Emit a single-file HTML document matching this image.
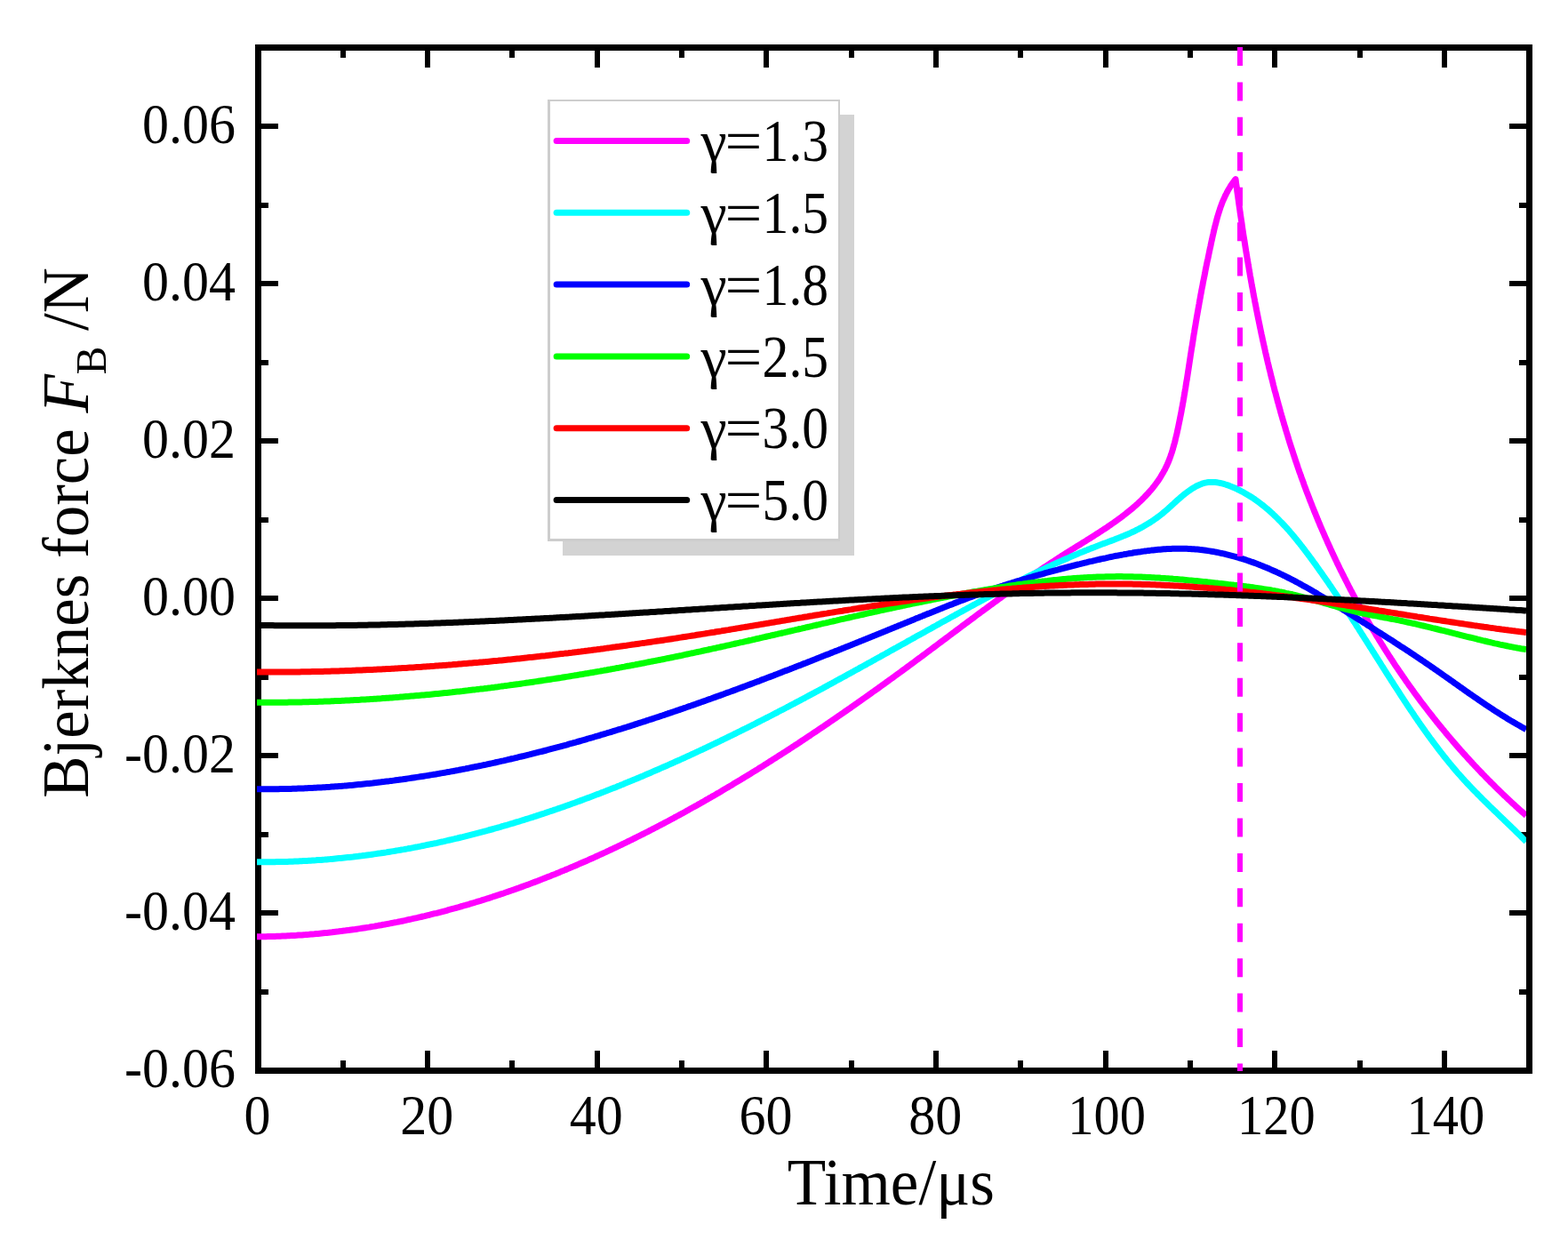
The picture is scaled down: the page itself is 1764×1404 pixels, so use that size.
<!DOCTYPE html>
<html><head><meta charset="utf-8"><title>Bjerknes force vs time</title>
<style>html,body{margin:0;padding:0;background:#fff;width:1764px;height:1404px;overflow:hidden}</style>
</head><body>
<svg width="1764" height="1404" viewBox="0 0 1764 1404" style="display:block">
<rect x="0" y="0" width="1764" height="1404" fill="#fff"/>
<g fill="#000">
<path fill-rule="evenodd" d="M287 50H1724V1208H287Z M294 57V1201H1717V57Z"/>
<rect x="288" y="1182" width="6" height="19"/>
<rect x="288" y="57" width="6" height="19"/>
<rect x="383" y="1193" width="6" height="8"/>
<rect x="383" y="57" width="6" height="8"/>
<rect x="478" y="1182" width="6" height="19"/>
<rect x="478" y="57" width="6" height="19"/>
<rect x="573" y="1193" width="6" height="8"/>
<rect x="573" y="57" width="6" height="8"/>
<rect x="669" y="1182" width="6" height="19"/>
<rect x="669" y="57" width="6" height="19"/>
<rect x="764" y="1193" width="6" height="8"/>
<rect x="764" y="57" width="6" height="8"/>
<rect x="859" y="1182" width="6" height="19"/>
<rect x="859" y="57" width="6" height="19"/>
<rect x="955" y="1193" width="6" height="8"/>
<rect x="955" y="57" width="6" height="8"/>
<rect x="1050" y="1182" width="6" height="19"/>
<rect x="1050" y="57" width="6" height="19"/>
<rect x="1145" y="1193" width="6" height="8"/>
<rect x="1145" y="57" width="6" height="8"/>
<rect x="1241" y="1182" width="6" height="19"/>
<rect x="1241" y="57" width="6" height="19"/>
<rect x="1336" y="1193" width="6" height="8"/>
<rect x="1336" y="57" width="6" height="8"/>
<rect x="1431" y="1182" width="6" height="19"/>
<rect x="1431" y="57" width="6" height="19"/>
<rect x="1527" y="1193" width="6" height="8"/>
<rect x="1527" y="57" width="6" height="8"/>
<rect x="1622" y="1182" width="6" height="19"/>
<rect x="1622" y="57" width="6" height="19"/>
<rect x="294" y="1113" width="8" height="6"/>
<rect x="1709" y="1113" width="8" height="6"/>
<rect x="294" y="1024" width="19" height="6"/>
<rect x="1698" y="1024" width="19" height="6"/>
<rect x="294" y="936" width="8" height="6"/>
<rect x="1709" y="936" width="8" height="6"/>
<rect x="294" y="847" width="19" height="6"/>
<rect x="1698" y="847" width="19" height="6"/>
<rect x="294" y="759" width="8" height="6"/>
<rect x="1709" y="759" width="8" height="6"/>
<rect x="294" y="670" width="19" height="6"/>
<rect x="1698" y="670" width="19" height="6"/>
<rect x="294" y="582" width="8" height="6"/>
<rect x="1709" y="582" width="8" height="6"/>
<rect x="294" y="493" width="19" height="6"/>
<rect x="1698" y="493" width="19" height="6"/>
<rect x="294" y="405" width="8" height="6"/>
<rect x="1709" y="405" width="8" height="6"/>
<rect x="294" y="316" width="19" height="6"/>
<rect x="1698" y="316" width="19" height="6"/>
<rect x="294" y="228" width="8" height="6"/>
<rect x="1709" y="228" width="8" height="6"/>
<rect x="294" y="139" width="19" height="6"/>
<rect x="1698" y="139" width="19" height="6"/>
</g>
<defs><clipPath id="pc"><rect x="289" y="50" width="1428" height="1158"/></clipPath></defs>
<g clip-path="url(#pc)" fill="none" stroke-width="7" stroke-linejoin="round" stroke-linecap="butt">
<path d="M289.0 1053.8L291.0 1053.8L293.1 1053.8L295.1 1053.7L297.1 1053.7L299.2 1053.7L301.2 1053.6L303.2 1053.6L305.3 1053.5L307.3 1053.5L309.3 1053.4L311.4 1053.3L313.4 1053.3L315.4 1053.2L317.4 1053.1L319.5 1053.0L321.5 1052.9L323.5 1052.8L325.5 1052.7L327.5 1052.6L329.6 1052.5L331.6 1052.4L333.6 1052.3L335.6 1052.1L337.6 1052.0L339.6 1051.9L341.6 1051.7L343.6 1051.6L345.6 1051.4L347.6 1051.3L349.7 1051.1L351.7 1050.9L353.7 1050.8L355.7 1050.6L357.7 1050.4L359.7 1050.2L361.7 1050.0L363.7 1049.8L365.7 1049.6L367.7 1049.4L369.6 1049.2L371.6 1049.0L373.6 1048.8L375.6 1048.5L377.6 1048.3L379.6 1048.1L381.6 1047.8L383.6 1047.6L385.6 1047.3L387.5 1047.1L389.5 1046.8L391.5 1046.6L393.5 1046.3L395.5 1046.0L397.4 1045.7L399.4 1045.5L401.4 1045.2L403.4 1044.9L405.3 1044.6L407.3 1044.3L409.3 1044.0L411.3 1043.7L413.2 1043.4L415.2 1043.1L417.2 1042.7L419.1 1042.4L421.1 1042.1L423.1 1041.7L425.0 1041.4L427.0 1041.0L428.9 1040.7L430.9 1040.3L432.9 1040.0L434.8 1039.6L436.8 1039.3L438.7 1038.9L440.7 1038.5L442.6 1038.1L444.6 1037.7L446.5 1037.4L448.5 1037.0L450.4 1036.6L452.4 1036.2L454.3 1035.8L456.3 1035.4L458.2 1034.9L460.2 1034.5L462.1 1034.1L464.0 1033.7L466.0 1033.2L467.9 1032.8L469.8 1032.4L471.8 1031.9L473.7 1031.5L475.6 1031.0L477.6 1030.6L479.5 1030.1L481.4 1029.6L483.4 1029.2L485.3 1028.7L487.2 1028.2L489.2 1027.7L491.1 1027.3L493.0 1026.8L494.9 1026.3L496.8 1025.8L498.8 1025.3L500.7 1024.8L502.6 1024.3L504.5 1023.7L506.4 1023.2L508.3 1022.7L510.3 1022.2L512.2 1021.7L514.1 1021.1L516.0 1020.6L517.9 1020.0L519.8 1019.5L521.7 1018.9L523.6 1018.4L525.5 1017.8L527.4 1017.3L529.3 1016.7L531.2 1016.1L533.1 1015.6L535.0 1015.0L536.9 1014.4L538.8 1013.8L540.7 1013.3L542.6 1012.7L544.5 1012.1L546.4 1011.5L548.3 1010.9L550.2 1010.3L552.1 1009.7L554.0 1009.0L555.8 1008.4L557.7 1007.8L559.6 1007.2L561.5 1006.6L563.4 1005.9L565.3 1005.3L567.1 1004.7L569.0 1004.0L570.9 1003.4L572.8 1002.7L574.7 1002.1L576.5 1001.4L578.4 1000.8L580.3 1000.1L582.1 999.4L584.0 998.8L585.9 998.1L587.8 997.4L589.6 996.7L591.5 996.0L593.4 995.4L595.2 994.7L597.1 994.0L598.9 993.3L600.8 992.6L602.7 991.9L604.5 991.2L606.4 990.4L608.2 989.7L610.1 989.0L611.9 988.3L613.8 987.6L615.6 986.8L617.5 986.1L619.3 985.4L621.2 984.6L623.0 983.9L624.9 983.2L626.7 982.4L628.6 981.7L630.4 980.9L632.3 980.1L634.1 979.4L635.9 978.6L637.8 977.9L639.6 977.1L641.5 976.3L643.3 975.5L645.1 974.8L647.0 974.0L648.8 973.2L650.6 972.4L652.5 971.6L654.3 970.8L656.1 970.0L657.9 969.2L659.8 968.4L661.6 967.6L663.4 966.8L665.2 966.0L667.1 965.2L668.9 964.4L670.7 963.5L672.5 962.7L674.3 961.9L676.2 961.1L678.0 960.2L679.8 959.4L681.6 958.6L683.4 957.7L685.2 956.9L687.0 956.0L688.8 955.2L690.6 954.3L692.4 953.5L694.3 952.6L696.1 951.7L697.9 950.9L699.7 950.0L701.5 949.1L703.3 948.3L705.1 947.4L706.9 946.5L708.7 945.6L710.5 944.8L712.2 943.9L714.0 943.0L715.8 942.1L717.6 941.2L719.4 940.3L721.2 939.4L723.0 938.5L724.8 937.6L726.6 936.7L728.4 935.8L730.1 934.9L731.9 934.0L733.7 933.0L735.5 932.1L737.3 931.2L739.0 930.3L740.8 929.3L742.6 928.4L744.4 927.5L746.1 926.6L747.9 925.6L749.7 924.7L751.5 923.7L753.2 922.8L755.0 921.8L756.8 920.9L758.5 919.9L760.3 919.0L762.1 918.0L763.8 917.1L765.6 916.1L767.4 915.2L769.1 914.2L770.9 913.2L772.6 912.2L774.4 911.3L776.1 910.3L777.9 909.3L779.7 908.3L781.4 907.4L783.2 906.4L784.9 905.4L786.7 904.4L788.4 903.4L790.2 902.4L791.9 901.4L793.6 900.4L795.4 899.4L797.1 898.4L798.9 897.4L800.6 896.4L802.4 895.4L804.1 894.4L805.8 893.4L807.6 892.4L809.3 891.4L811.0 890.4L812.8 889.3L814.5 888.3L816.2 887.3L818.0 886.3L819.7 885.2L821.4 884.2L823.2 883.2L824.9 882.1L826.6 881.1L828.3 880.1L830.1 879.0L831.8 878.0L833.5 877.0L835.2 875.9L837.0 874.9L838.7 873.8L840.4 872.8L842.1 871.7L843.8 870.7L845.5 869.6L847.2 868.5L849.0 867.5L850.7 866.4L852.4 865.4L854.1 864.3L855.8 863.2L857.5 862.2L859.2 861.1L860.9 860.0L862.6 859.0L864.3 857.9L866.0 856.8L867.7 855.7L869.4 854.6L871.1 853.6L872.8 852.5L874.5 851.4L876.2 850.3L877.9 849.2L879.6 848.1L881.3 847.0L883.0 846.0L884.7 844.9L886.4 843.8L888.1 842.7L889.7 841.6L891.4 840.5L893.1 839.4L894.8 838.3L896.5 837.2L898.2 836.1L899.8 835.0L901.5 833.8L903.2 832.7L904.9 831.6L906.6 830.5L908.2 829.4L909.9 828.3L911.6 827.2L913.3 826.0L914.9 824.9L916.6 823.8L918.3 822.7L919.9 821.6L921.6 820.4L923.3 819.3L924.9 818.2L926.6 817.1L928.3 815.9L929.9 814.8L931.6 813.7L933.2 812.5L934.9 811.4L936.6 810.3L938.2 809.1L939.9 808.0L941.5 806.9L943.2 805.7L944.8 804.6L946.5 803.4L948.1 802.3L949.8 801.1L951.4 800.0L953.1 798.8L954.7 797.7L956.4 796.6L958.0 795.4L959.7 794.3L961.3 793.1L963.0 791.9L964.6 790.8L966.2 789.6L967.9 788.5L969.5 787.3L971.1 786.2L972.8 785.0L974.4 783.9L976.1 782.7L977.7 781.5L979.3 780.4L980.9 779.2L982.6 778.0L984.2 776.9L985.8 775.7L987.5 774.6L989.1 773.4L990.7 772.2L992.3 771.0L994.0 769.9L995.6 768.7L997.2 767.5L998.8 766.4L1000.4 765.2L1002.1 764.0L1003.7 762.9L1005.3 761.7L1006.9 760.5L1008.5 759.3L1010.1 758.2L1011.7 757.0L1013.4 755.8L1015.0 754.6L1016.6 753.4L1018.2 752.3L1019.8 751.1L1021.4 749.9L1023.0 748.7L1024.6 747.5L1026.2 746.4L1027.8 745.2L1029.4 744.0L1031.0 742.8L1032.6 741.6L1034.2 740.4L1035.8 739.3L1037.4 738.1L1039.0 736.9L1040.6 735.7L1042.2 734.5L1043.8 733.3L1045.4 732.1L1046.9 731.0L1048.5 729.8L1050.1 728.6L1051.7 727.4L1053.3 726.2L1054.9 725.0L1056.5 723.8L1058.1 722.6L1059.7 721.4L1061.2 720.3L1062.8 719.1L1064.4 717.9L1066.0 716.7L1067.6 715.5L1069.2 714.3L1070.8 713.1L1072.3 711.9L1073.9 710.8L1075.5 709.6L1077.1 708.4L1078.7 707.2L1080.3 706.0L1081.9 704.8L1083.4 703.6L1085.0 702.5L1086.6 701.3L1088.2 700.1L1089.8 698.9L1091.4 697.7L1093.0 696.5L1094.6 695.4L1096.1 694.2L1097.7 693.0L1099.3 691.8L1100.9 690.6L1102.5 689.5L1104.1 688.3L1105.7 687.1L1107.3 685.9L1108.9 684.8L1110.5 683.6L1112.1 682.4L1113.7 681.2L1115.3 680.1L1116.9 678.9L1118.5 677.7L1120.1 676.6L1121.7 675.4L1123.3 674.2L1124.9 673.1L1126.5 671.9L1128.1 670.7L1129.7 669.6L1131.4 668.4L1133.0 667.3L1134.6 666.1L1136.2 665.0L1137.8 663.8L1139.4 662.7L1141.1 661.5L1142.7 660.4L1144.3 659.2L1145.9 658.1L1147.6 656.9L1149.2 655.8L1150.8 654.6L1152.5 653.5L1154.1 652.3L1155.8 651.2L1157.4 650.1L1159.0 648.9L1160.7 647.8L1162.3 646.7L1164.0 645.6L1165.6 644.4L1167.3 643.3L1169.0 642.2L1170.6 641.1L1172.3 639.9L1173.9 638.8L1175.6 637.7L1177.3 636.6L1179.0 635.5L1180.6 634.4L1182.3 633.3L1184.0 632.2L1185.7 631.1L1187.4 630.0L1189.1 628.9L1190.8 627.8L1192.5 626.7L1194.1 625.6L1195.9 624.5L1197.6 623.4L1199.3 622.3L1201.0 621.3L1202.7 620.2L1204.4 619.1L1206.1 618.0L1207.9 617.0L1209.6 615.9L1211.3 614.8L1213.0 613.8L1214.8 612.7L1216.5 611.6L1218.2 610.5L1219.9 609.5L1221.7 608.4L1223.4 607.3L1225.1 606.3L1226.8 605.2L1228.6 604.1L1230.3 603.0L1232.0 601.9L1233.7 600.8L1235.4 599.7L1237.1 598.6L1238.8 597.5L1240.5 596.4L1242.2 595.3L1243.9 594.2L1245.6 593.1L1247.2 591.9L1248.9 590.8L1250.5 589.7L1252.2 588.5L1253.8 587.4L1255.5 586.2L1257.1 585.0L1258.7 583.8L1260.3 582.7L1261.9 581.5L1263.5 580.2L1265.1 579.0L1266.7 577.8L1268.2 576.6L1269.8 575.3L1271.3 574.1L1272.9 572.8L1274.4 571.5L1275.9 570.2L1277.4 568.9L1278.8 567.6L1280.3 566.3L1281.7 564.9L1283.2 563.6L1284.6 562.2L1286.0 560.8L1287.4 559.4L1288.7 558.0L1290.1 556.5L1291.4 555.1L1292.7 553.6L1294.0 552.2L1295.3 550.7L1296.6 549.2L1297.8 547.6L1299.0 546.1L1300.2 544.5L1301.3 543.0L1302.5 541.4L1303.6 539.8L1304.7 538.1L1305.7 536.5L1306.7 534.8L1307.7 533.1L1308.7 531.4L1309.6 529.7L1310.6 528.0L1311.4 526.2L1312.3 524.4L1313.1 522.7L1313.9 520.8L1314.7 519.0L1315.4 517.2L1316.1 515.3L1316.8 513.4L1317.4 511.5L1318.1 509.6L1318.7 507.7L1319.3 505.8L1319.8 503.8L1320.4 501.9L1320.9 499.9L1321.5 497.9L1322.0 496.0L1322.4 494.0L1322.9 492.0L1323.4 490.0L1323.9 488.1L1324.3 486.1L1324.7 484.1L1325.2 482.1L1325.6 480.1L1326.0 478.1L1326.4 476.1L1326.8 474.2L1327.2 472.2L1327.6 470.2L1328.0 468.2L1328.4 466.2L1328.8 464.2L1329.2 462.3L1329.5 460.3L1329.9 458.3L1330.3 456.3L1330.6 454.3L1331.0 452.4L1331.3 450.4L1331.7 448.4L1332.0 446.4L1332.3 444.5L1332.7 442.5L1333.0 440.5L1333.3 438.5L1333.7 436.6L1334.0 434.6L1334.3 432.6L1334.6 430.6L1334.9 428.7L1335.3 426.7L1335.6 424.7L1335.9 422.8L1336.2 420.8L1336.5 418.8L1336.8 416.9L1337.1 414.9L1337.4 412.9L1337.7 410.9L1338.0 409.0L1338.3 407.0L1338.6 405.0L1338.9 403.1L1339.2 401.1L1339.5 399.1L1339.8 397.2L1340.1 395.2L1340.4 393.2L1340.7 391.3L1341.1 389.3L1341.4 387.3L1341.7 385.4L1342.0 383.4L1342.3 381.4L1342.6 379.5L1342.9 377.5L1343.2 375.5L1343.6 373.6L1343.9 371.6L1344.2 369.6L1344.5 367.7L1344.9 365.7L1345.2 363.7L1345.5 361.8L1345.9 359.8L1346.2 357.8L1346.5 355.9L1346.9 353.9L1347.2 351.9L1347.6 350.0L1347.9 348.0L1348.3 346.0L1348.6 344.1L1349.0 342.1L1349.3 340.1L1349.7 338.2L1350.0 336.2L1350.4 334.2L1350.7 332.3L1351.1 330.3L1351.5 328.3L1351.8 326.4L1352.2 324.4L1352.6 322.4L1353.0 320.5L1353.3 318.5L1353.7 316.5L1354.1 314.6L1354.5 312.6L1354.9 310.7L1355.3 308.7L1355.7 306.7L1356.0 304.8L1356.4 302.8L1356.8 300.8L1357.2 298.9L1357.6 296.9L1358.0 294.9L1358.4 293.0L1358.9 291.0L1359.3 289.0L1359.7 287.1L1360.1 285.1L1360.5 283.1L1360.9 281.2L1361.3 279.2L1361.8 277.3L1362.2 275.3L1362.6 273.3L1363.0 271.4L1363.5 269.4L1363.9 267.4L1364.3 265.5L1364.8 263.5L1365.2 261.6L1365.7 259.6L1366.1 257.6L1366.6 255.7L1367.1 253.7L1367.6 251.8L1368.1 249.9L1368.6 247.9L1369.1 246.0L1369.6 244.1L1370.2 242.2L1370.8 240.3L1371.4 238.4L1372.0 236.5L1372.6 234.6L1373.2 232.7L1373.9 230.9L1374.6 229.0L1375.3 227.2L1376.1 225.4L1376.9 223.6L1377.7 221.8L1378.5 220.0L1379.4 218.3L1380.3 216.5L1381.2 214.8L1382.2 213.1L1383.2 211.4L1384.2 209.7L1385.3 208.0L1386.4 206.4L1387.6 204.8L1388.8 203.2L1390.0 201.6L1390.0 201.6L1390.3 203.6L1390.5 205.5L1390.8 207.5L1391.1 209.4L1391.3 211.4L1391.6 213.3L1391.8 215.3L1392.1 217.3L1392.4 219.2L1392.7 221.2L1392.9 223.1L1393.2 225.1L1393.5 227.1L1393.7 229.0L1394.0 231.0L1394.3 232.9L1394.6 234.9L1394.9 236.9L1395.1 238.8L1395.4 240.8L1395.7 242.8L1396.0 244.7L1396.3 246.7L1396.6 248.7L1396.9 250.6L1397.2 252.6L1397.4 254.5L1397.7 256.5L1398.0 258.5L1398.3 260.4L1398.6 262.4L1398.9 264.4L1399.2 266.3L1399.5 268.3L1399.9 270.3L1400.2 272.2L1400.5 274.2L1400.8 276.2L1401.1 278.1L1401.4 280.1L1401.7 282.1L1402.0 284.0L1402.4 286.0L1402.7 288.0L1403.0 289.9L1403.3 291.9L1403.7 293.9L1404.0 295.8L1404.3 297.8L1404.7 299.8L1405.0 301.7L1405.3 303.7L1405.7 305.7L1406.0 307.6L1406.3 309.6L1406.7 311.6L1407.0 313.5L1407.4 315.5L1407.7 317.5L1408.1 319.4L1408.4 321.4L1408.8 323.3L1409.2 325.3L1409.5 327.3L1409.9 329.2L1410.2 331.2L1410.6 333.2L1411.0 335.1L1411.4 337.1L1411.7 339.1L1412.1 341.0L1412.5 343.0L1412.9 344.9L1413.2 346.9L1413.6 348.9L1414.0 350.8L1414.4 352.8L1414.8 354.8L1415.2 356.7L1415.6 358.7L1416.0 360.6L1416.4 362.6L1416.8 364.5L1417.2 366.5L1417.6 368.5L1418.0 370.4L1418.4 372.4L1418.8 374.3L1419.2 376.3L1419.7 378.2L1420.1 380.2L1420.5 382.2L1420.9 384.1L1421.4 386.1L1421.8 388.0L1422.2 390.0L1422.7 391.9L1423.1 393.9L1423.5 395.8L1424.0 397.8L1424.4 399.7L1424.9 401.7L1425.3 403.6L1425.8 405.6L1426.2 407.5L1426.7 409.5L1427.2 411.4L1427.6 413.4L1428.1 415.3L1428.6 417.2L1429.1 419.2L1429.5 421.1L1430.0 423.1L1430.5 425.0L1431.0 426.9L1431.5 428.9L1432.0 430.8L1432.4 432.8L1432.9 434.7L1433.4 436.6L1433.9 438.6L1434.4 440.5L1435.0 442.4L1435.5 444.4L1436.0 446.3L1436.5 448.2L1437.0 450.2L1437.5 452.1L1438.1 454.0L1438.6 456.0L1439.1 457.9L1439.7 459.8L1440.2 461.7L1440.7 463.7L1441.3 465.6L1441.8 467.5L1442.4 469.4L1442.9 471.4L1443.5 473.3L1444.1 475.2L1444.6 477.1L1445.2 479.0L1445.8 480.9L1446.3 482.9L1446.9 484.8L1447.5 486.7L1448.1 488.6L1448.7 490.5L1449.2 492.4L1449.8 494.3L1450.4 496.2L1451.0 498.1L1451.6 500.0L1452.2 501.9L1452.8 503.8L1453.5 505.7L1454.1 507.6L1454.7 509.5L1455.3 511.4L1455.9 513.3L1456.6 515.2L1457.2 517.1L1457.8 519.0L1458.5 520.9L1459.1 522.8L1459.8 524.7L1460.4 526.6L1461.1 528.5L1461.7 530.4L1462.4 532.2L1463.1 534.1L1463.7 536.0L1464.4 537.9L1465.1 539.8L1465.8 541.6L1466.5 543.5L1467.1 545.4L1467.8 547.3L1468.5 549.1L1469.2 551.0L1469.9 552.9L1470.6 554.7L1471.4 556.6L1472.1 558.5L1472.8 560.3L1473.5 562.2L1474.2 564.1L1475.0 565.9L1475.7 567.8L1476.4 569.6L1477.2 571.5L1477.9 573.3L1478.6 575.2L1479.4 577.0L1480.2 578.9L1480.9 580.7L1481.7 582.6L1482.4 584.4L1483.2 586.3L1484.0 588.1L1484.7 589.9L1485.5 591.8L1486.3 593.6L1487.1 595.5L1487.9 597.3L1488.7 599.1L1489.5 600.9L1490.3 602.8L1491.1 604.6L1491.9 606.4L1492.7 608.2L1493.5 610.1L1494.3 611.9L1495.2 613.7L1496.0 615.5L1496.8 617.3L1497.6 619.1L1498.5 621.0L1499.3 622.8L1500.2 624.6L1501.0 626.4L1501.9 628.2L1502.7 630.0L1503.6 631.8L1504.4 633.6L1505.3 635.4L1506.2 637.2L1507.0 639.0L1507.9 640.8L1508.8 642.5L1509.7 644.3L1510.6 646.1L1511.5 647.9L1512.4 649.7L1513.3 651.5L1514.2 653.2L1515.1 655.0L1516.0 656.8L1516.9 658.6L1517.8 660.3L1518.7 662.1L1519.6 663.9L1520.6 665.6L1521.5 667.4L1522.4 669.1L1523.4 670.9L1524.3 672.7L1525.3 674.4L1526.2 676.2L1527.2 677.9L1528.1 679.7L1529.1 681.4L1530.0 683.2L1531.0 684.9L1532.0 686.6L1533.0 688.4L1533.9 690.1L1534.9 691.8L1535.9 693.6L1536.9 695.3L1537.9 697.0L1538.9 698.8L1539.9 700.5L1540.9 702.2L1541.9 703.9L1542.9 705.6L1543.9 707.3L1544.9 709.1L1546.0 710.8L1547.0 712.5L1548.0 714.2L1549.0 715.9L1550.1 717.6L1551.1 719.3L1552.2 721.0L1553.2 722.7L1554.3 724.4L1555.3 726.1L1556.4 727.7L1557.4 729.4L1558.5 731.1L1559.6 732.8L1560.6 734.5L1561.7 736.1L1562.8 737.8L1563.9 739.5L1565.0 741.2L1566.1 742.8L1567.1 744.5L1568.2 746.1L1569.3 747.8L1570.4 749.5L1571.6 751.1L1572.7 752.8L1573.8 754.4L1574.9 756.1L1576.0 757.7L1577.2 759.3L1578.3 761.0L1579.4 762.6L1580.6 764.3L1581.7 765.9L1582.8 767.5L1584.0 769.1L1585.1 770.8L1586.3 772.4L1587.5 774.0L1588.6 775.6L1589.8 777.2L1591.0 778.9L1592.1 780.5L1593.3 782.1L1594.5 783.7L1595.7 785.3L1596.9 786.9L1598.0 788.5L1599.2 790.1L1600.4 791.6L1601.6 793.2L1602.8 794.8L1604.1 796.4L1605.3 798.0L1606.5 799.6L1607.7 801.1L1608.9 802.7L1610.2 804.3L1611.4 805.8L1612.6 807.4L1613.9 809.0L1615.1 810.5L1616.3 812.1L1617.6 813.6L1618.9 815.2L1620.1 816.7L1621.4 818.3L1622.6 819.8L1623.9 821.3L1625.2 822.9L1626.4 824.4L1627.7 825.9L1629.0 827.5L1630.3 829.0L1631.6 830.5L1632.9 832.0L1634.2 833.6L1635.5 835.1L1636.8 836.6L1638.1 838.1L1639.4 839.6L1640.7 841.1L1642.0 842.6L1643.3 844.1L1644.7 845.6L1646.0 847.1L1647.3 848.5L1648.7 850.0L1650.0 851.5L1651.3 853.0L1652.7 854.5L1654.0 855.9L1655.4 857.4L1656.7 858.9L1658.1 860.3L1659.5 861.8L1660.8 863.2L1662.2 864.7L1663.6 866.1L1665.0 867.6L1666.3 869.0L1667.7 870.5L1669.1 871.9L1670.5 873.3L1671.9 874.8L1673.3 876.2L1674.7 877.6L1676.1 879.0L1677.5 880.5L1679.0 881.9L1680.4 883.3L1681.8 884.7L1683.2 886.1L1684.6 887.5L1686.1 888.9L1687.5 890.3L1689.0 891.7L1690.4 893.1L1691.8 894.5L1693.3 895.8L1694.8 897.2L1696.2 898.6L1697.7 900.0L1699.1 901.3L1700.6 902.7L1702.1 904.1L1703.6 905.4L1705.0 906.8L1706.5 908.1L1708.0 909.5L1709.5 910.8L1711.0 912.2L1712.5 913.5L1714.0 914.8L1715.5 916.2L1717.0 917.5" stroke="#ff00ff"/>
<path d="M289.0 969.7L291.0 969.7L293.0 969.7L295.1 969.7L297.1 969.7L299.1 969.7L301.1 969.7L303.1 969.7L305.2 969.7L307.2 969.7L309.2 969.7L311.2 969.6L313.2 969.6L315.2 969.6L317.2 969.5L319.3 969.5L321.3 969.4L323.3 969.4L325.3 969.3L327.3 969.2L329.3 969.2L331.3 969.1L333.3 969.0L335.3 968.9L337.3 968.8L339.3 968.7L341.3 968.6L343.3 968.5L345.4 968.4L347.4 968.3L349.4 968.2L351.4 968.0L353.4 967.9L355.4 967.8L357.4 967.6L359.3 967.5L361.3 967.4L363.3 967.2L365.3 967.1L367.3 966.9L369.3 966.7L371.3 966.6L373.3 966.4L375.3 966.2L377.3 966.0L379.3 965.8L381.3 965.6L383.3 965.4L385.2 965.2L387.2 965.0L389.2 964.8L391.2 964.6L393.2 964.4L395.2 964.2L397.2 964.0L399.1 963.7L401.1 963.5L403.1 963.3L405.1 963.0L407.1 962.8L409.0 962.5L411.0 962.3L413.0 962.0L415.0 961.7L416.9 961.5L418.9 961.2L420.9 960.9L422.9 960.6L424.8 960.3L426.8 960.1L428.8 959.8L430.7 959.5L432.7 959.2L434.7 958.9L436.7 958.5L438.6 958.2L440.6 957.9L442.6 957.6L444.5 957.3L446.5 956.9L448.4 956.6L450.4 956.3L452.4 955.9L454.3 955.6L456.3 955.2L458.2 954.9L460.2 954.5L462.2 954.2L464.1 953.8L466.1 953.4L468.0 953.0L470.0 952.7L471.9 952.3L473.9 951.9L475.8 951.5L477.8 951.1L479.7 950.7L481.7 950.3L483.6 949.9L485.6 949.5L487.5 949.1L489.5 948.7L491.4 948.3L493.4 947.8L495.3 947.4L497.3 947.0L499.2 946.6L501.2 946.1L503.1 945.7L505.0 945.2L507.0 944.8L508.9 944.3L510.9 943.9L512.8 943.4L514.7 943.0L516.7 942.5L518.6 942.0L520.5 941.6L522.5 941.1L524.4 940.6L526.3 940.1L528.3 939.6L530.2 939.1L532.1 938.6L534.1 938.1L536.0 937.6L537.9 937.1L539.8 936.6L541.8 936.1L543.7 935.6L545.6 935.1L547.5 934.6L549.5 934.0L551.4 933.5L553.3 933.0L555.2 932.5L557.1 931.9L559.1 931.4L561.0 930.8L562.9 930.3L564.8 929.7L566.7 929.2L568.6 928.6L570.6 928.1L572.5 927.5L574.4 926.9L576.3 926.4L578.2 925.8L580.1 925.2L582.0 924.6L583.9 924.1L585.8 923.5L587.7 922.9L589.6 922.3L591.5 921.7L593.5 921.1L595.4 920.5L597.3 919.9L599.2 919.3L601.1 918.7L603.0 918.1L604.9 917.4L606.8 916.8L608.7 916.2L610.6 915.6L612.5 915.0L614.3 914.3L616.2 913.7L618.1 913.0L620.0 912.4L621.9 911.8L623.8 911.1L625.7 910.5L627.6 909.8L629.5 909.2L631.4 908.5L633.3 907.9L635.1 907.2L637.0 906.5L638.9 905.9L640.8 905.2L642.7 904.5L644.6 903.8L646.4 903.2L648.3 902.5L650.2 901.8L652.1 901.1L654.0 900.4L655.8 899.7L657.7 899.0L659.6 898.3L661.5 897.6L663.3 896.9L665.2 896.2L667.1 895.5L669.0 894.8L670.8 894.1L672.7 893.4L674.6 892.7L676.4 891.9L678.3 891.2L680.2 890.5L682.0 889.8L683.9 889.0L685.8 888.3L687.6 887.6L689.5 886.8L691.4 886.1L693.2 885.4L695.1 884.6L696.9 883.9L698.8 883.1L700.6 882.4L702.5 881.6L704.4 880.8L706.2 880.1L708.1 879.3L709.9 878.6L711.8 877.8L713.6 877.0L715.5 876.3L717.3 875.5L719.2 874.7L721.0 873.9L722.9 873.2L724.7 872.4L726.6 871.6L728.4 870.8L730.3 870.0L732.1 869.2L733.9 868.4L735.8 867.6L737.6 866.8L739.5 866.0L741.3 865.2L743.1 864.4L745.0 863.6L746.8 862.8L748.7 862.0L750.5 861.2L752.3 860.4L754.2 859.6L756.0 858.8L757.8 857.9L759.7 857.1L761.5 856.3L763.3 855.5L765.1 854.7L767.0 853.8L768.8 853.0L770.6 852.2L772.4 851.3L774.3 850.5L776.1 849.7L777.9 848.8L779.7 848.0L781.6 847.1L783.4 846.3L785.2 845.4L787.0 844.6L788.8 843.7L790.7 842.9L792.5 842.0L794.3 841.2L796.1 840.3L797.9 839.5L799.7 838.6L801.5 837.7L803.3 836.9L805.2 836.0L807.0 835.1L808.8 834.3L810.6 833.4L812.4 832.5L814.2 831.6L816.0 830.8L817.8 829.9L819.6 829.0L821.4 828.1L823.2 827.3L825.0 826.4L826.8 825.5L828.6 824.6L830.4 823.7L832.2 822.8L834.0 821.9L835.8 821.0L837.6 820.1L839.4 819.3L841.2 818.4L843.0 817.5L844.7 816.6L846.5 815.7L848.3 814.8L850.1 813.9L851.9 812.9L853.7 812.0L855.5 811.1L857.3 810.2L859.0 809.3L860.8 808.4L862.6 807.5L864.4 806.6L866.2 805.7L868.0 804.7L869.7 803.8L871.5 802.9L873.3 802.0L875.1 801.1L876.8 800.1L878.6 799.2L880.4 798.3L882.2 797.4L883.9 796.5L885.7 795.5L887.5 794.6L889.2 793.7L891.0 792.7L892.8 791.8L894.5 790.9L896.3 789.9L898.1 789.0L899.8 788.1L901.6 787.1L903.4 786.2L905.1 785.3L906.9 784.3L908.6 783.4L910.4 782.4L912.2 781.5L913.9 780.5L915.7 779.6L917.4 778.7L919.2 777.7L921.0 776.8L922.7 775.8L924.5 774.9L926.2 773.9L928.0 773.0L929.7 772.0L931.5 771.1L933.2 770.1L935.0 769.2L936.7 768.2L938.5 767.3L940.2 766.3L942.0 765.3L943.7 764.4L945.5 763.4L947.2 762.5L949.0 761.5L950.7 760.6L952.5 759.6L954.2 758.6L956.0 757.7L957.7 756.7L959.5 755.8L961.2 754.8L963.0 753.8L964.7 752.9L966.4 751.9L968.2 750.9L969.9 750.0L971.7 749.0L973.4 748.1L975.2 747.1L976.9 746.1L978.7 745.2L980.4 744.2L982.1 743.2L983.9 742.3L985.6 741.3L987.4 740.3L989.1 739.4L990.8 738.4L992.6 737.4L994.3 736.5L996.1 735.5L997.8 734.5L999.6 733.6L1001.3 732.6L1003.0 731.6L1004.8 730.6L1006.5 729.7L1008.3 728.7L1010.0 727.7L1011.7 726.8L1013.5 725.8L1015.2 724.8L1017.0 723.9L1018.7 722.9L1020.4 721.9L1022.2 720.9L1023.9 720.0L1025.7 719.0L1027.4 718.0L1029.2 717.1L1030.9 716.1L1032.6 715.1L1034.4 714.2L1036.1 713.2L1037.9 712.2L1039.6 711.3L1041.4 710.3L1043.1 709.3L1044.8 708.3L1046.6 707.4L1048.3 706.4L1050.1 705.4L1051.8 704.5L1053.6 703.5L1055.3 702.5L1057.1 701.6L1058.8 700.6L1060.5 699.6L1062.3 698.7L1064.0 697.7L1065.8 696.7L1067.5 695.8L1069.3 694.8L1071.0 693.8L1072.8 692.9L1074.5 691.9L1076.3 691.0L1078.0 690.0L1079.8 689.0L1081.5 688.1L1083.3 687.1L1085.0 686.2L1086.8 685.2L1088.5 684.2L1090.3 683.3L1092.1 682.3L1093.8 681.4L1095.6 680.4L1097.3 679.5L1099.1 678.5L1100.8 677.6L1102.6 676.6L1104.4 675.7L1106.1 674.7L1107.9 673.8L1109.6 672.8L1111.4 671.9L1113.2 670.9L1114.9 670.0L1116.7 669.1L1118.5 668.1L1120.2 667.2L1122.0 666.3L1123.8 665.3L1125.5 664.4L1127.3 663.5L1129.1 662.6L1130.9 661.6L1132.6 660.7L1134.4 659.8L1136.2 658.9L1138.0 658.0L1139.8 657.1L1141.5 656.2L1143.3 655.3L1145.1 654.4L1146.9 653.5L1148.7 652.6L1150.5 651.7L1152.3 650.8L1154.0 649.9L1155.8 649.0L1157.6 648.1L1159.4 647.2L1161.2 646.4L1163.0 645.5L1164.8 644.6L1166.6 643.7L1168.4 642.9L1170.2 642.0L1172.0 641.1L1173.8 640.3L1175.6 639.4L1177.5 638.6L1179.3 637.7L1181.1 636.9L1182.9 636.1L1184.7 635.2L1186.5 634.4L1188.4 633.6L1190.2 632.7L1192.0 631.9L1193.8 631.1L1195.7 630.3L1197.5 629.5L1199.3 628.7L1201.2 627.9L1203.0 627.1L1204.8 626.3L1206.7 625.5L1208.5 624.7L1210.4 623.9L1212.2 623.2L1214.0 622.4L1215.9 621.6L1217.7 620.9L1219.6 620.1L1221.5 619.4L1223.3 618.6L1225.2 617.9L1227.0 617.1L1228.9 616.4L1230.8 615.7L1232.6 615.0L1234.5 614.2L1236.4 613.5L1238.3 612.8L1240.1 612.1L1242.0 611.4L1243.9 610.7L1245.8 610.0L1247.6 609.3L1249.5 608.6L1251.4 607.9L1253.3 607.2L1255.1 606.4L1257.0 605.7L1258.8 605.0L1260.7 604.3L1262.5 603.5L1264.4 602.8L1266.2 602.0L1268.0 601.2L1269.9 600.4L1271.7 599.6L1273.5 598.8L1275.3 598.0L1277.1 597.1L1278.8 596.2L1280.6 595.3L1282.3 594.4L1284.1 593.5L1285.8 592.6L1287.5 591.6L1289.2 590.6L1290.9 589.6L1292.6 588.6L1294.2 587.5L1295.9 586.4L1297.5 585.3L1299.1 584.2L1300.7 583.1L1302.3 581.9L1303.9 580.7L1305.5 579.5L1307.1 578.3L1308.6 577.0L1310.1 575.7L1311.7 574.4L1313.2 573.1L1314.7 571.7L1316.2 570.4L1317.7 569.0L1319.2 567.7L1320.7 566.3L1322.2 564.9L1323.7 563.5L1325.2 562.2L1326.8 560.8L1328.3 559.5L1329.9 558.1L1331.5 556.8L1333.1 555.5L1334.8 554.2L1336.4 553.0L1338.1 551.8L1339.8 550.6L1341.5 549.5L1343.3 548.4L1345.0 547.4L1346.8 546.5L1348.6 545.7L1350.4 544.9L1352.2 544.2L1354.0 543.7L1355.9 543.2L1357.7 542.8L1359.6 542.6L1361.5 542.5L1363.4 542.4L1365.3 542.4L1367.2 542.6L1369.1 542.8L1371.0 543.1L1372.9 543.5L1374.8 543.9L1376.7 544.4L1378.6 545.0L1380.4 545.6L1382.3 546.2L1384.2 547.0L1386.0 547.7L1387.9 548.5L1389.7 549.3L1391.5 550.1L1393.3 551.0L1395.1 551.9L1396.8 552.8L1398.6 553.7L1400.3 554.7L1402.0 555.7L1403.7 556.7L1405.4 557.7L1407.1 558.8L1408.7 559.8L1410.4 560.9L1412.0 562.0L1413.6 563.2L1415.2 564.3L1416.8 565.5L1418.4 566.7L1419.9 567.9L1421.5 569.1L1423.0 570.4L1424.5 571.7L1426.1 572.9L1427.5 574.2L1429.0 575.5L1430.5 576.9L1432.0 578.2L1433.4 579.6L1434.9 581.0L1436.3 582.4L1437.7 583.8L1439.1 585.2L1440.5 586.6L1441.9 588.0L1443.3 589.5L1444.7 591.0L1446.0 592.4L1447.4 593.9L1448.7 595.4L1450.1 596.9L1451.4 598.5L1452.7 600.0L1454.0 601.5L1455.3 603.1L1456.6 604.6L1457.9 606.2L1459.2 607.8L1460.4 609.4L1461.7 610.9L1462.9 612.5L1464.2 614.1L1465.4 615.7L1466.7 617.3L1467.9 618.9L1469.1 620.6L1470.4 622.2L1471.6 623.8L1472.8 625.4L1474.0 627.1L1475.2 628.7L1476.4 630.3L1477.6 632.0L1478.8 633.6L1480.0 635.2L1481.1 636.9L1482.3 638.5L1483.5 640.2L1484.6 641.8L1485.8 643.4L1487.0 645.1L1488.1 646.7L1489.3 648.4L1490.4 650.0L1491.6 651.7L1492.7 653.3L1493.9 655.0L1495.0 656.6L1496.1 658.3L1497.3 659.9L1498.4 661.6L1499.5 663.3L1500.6 664.9L1501.7 666.6L1502.9 668.2L1504.0 669.9L1505.1 671.6L1506.2 673.2L1507.3 674.9L1508.4 676.6L1509.5 678.2L1510.6 679.9L1511.7 681.6L1512.8 683.2L1513.9 684.9L1514.9 686.6L1516.0 688.2L1517.1 689.9L1518.2 691.6L1519.3 693.2L1520.4 694.9L1521.4 696.6L1522.5 698.3L1523.6 699.9L1524.7 701.6L1525.7 703.3L1526.8 705.0L1527.9 706.6L1528.9 708.3L1530.0 710.0L1531.1 711.7L1532.1 713.3L1533.2 715.0L1534.3 716.7L1535.3 718.4L1536.4 720.1L1537.5 721.7L1538.5 723.4L1539.6 725.1L1540.6 726.8L1541.7 728.4L1542.8 730.1L1543.8 731.8L1544.9 733.5L1546.0 735.2L1547.0 736.8L1548.1 738.5L1549.1 740.2L1550.2 741.9L1551.3 743.6L1552.3 745.2L1553.4 746.9L1554.4 748.6L1555.5 750.3L1556.6 751.9L1557.6 753.6L1558.7 755.3L1559.8 757.0L1560.8 758.7L1561.9 760.3L1563.0 762.0L1564.0 763.7L1565.1 765.4L1566.2 767.0L1567.3 768.7L1568.3 770.4L1569.4 772.1L1570.5 773.7L1571.6 775.4L1572.7 777.1L1573.8 778.7L1574.8 780.4L1575.9 782.1L1577.0 783.8L1578.1 785.4L1579.2 787.1L1580.3 788.8L1581.4 790.4L1582.5 792.1L1583.6 793.8L1584.7 795.4L1585.8 797.1L1586.9 798.7L1588.1 800.4L1589.2 802.1L1590.3 803.7L1591.4 805.4L1592.5 807.0L1593.7 808.7L1594.8 810.3L1595.9 812.0L1597.1 813.6L1598.2 815.3L1599.4 816.9L1600.5 818.6L1601.7 820.2L1602.8 821.8L1604.0 823.5L1605.2 825.1L1606.3 826.7L1607.5 828.3L1608.7 830.0L1609.9 831.6L1611.1 833.2L1612.3 834.8L1613.5 836.4L1614.7 838.0L1615.9 839.6L1617.1 841.2L1618.3 842.8L1619.5 844.4L1620.7 846.0L1622.0 847.5L1623.2 849.1L1624.4 850.7L1625.7 852.3L1626.9 853.8L1628.2 855.4L1629.4 856.9L1630.7 858.5L1632.0 860.0L1633.3 861.5L1634.5 863.1L1635.8 864.6L1637.1 866.1L1638.4 867.6L1639.7 869.2L1641.0 870.7L1642.4 872.2L1643.7 873.6L1645.0 875.1L1646.4 876.6L1647.7 878.1L1649.1 879.6L1650.4 881.0L1651.8 882.5L1653.1 883.9L1654.5 885.4L1655.9 886.8L1657.3 888.3L1658.7 889.7L1660.1 891.1L1661.5 892.5L1662.9 894.0L1664.3 895.4L1665.7 896.8L1667.1 898.2L1668.5 899.6L1669.9 901.0L1671.3 902.4L1672.8 903.8L1674.2 905.2L1675.6 906.6L1677.0 908.0L1678.5 909.4L1679.9 910.8L1681.3 912.2L1682.8 913.5L1684.2 914.9L1685.6 916.3L1687.1 917.7L1688.5 919.1L1690.0 920.5L1691.4 921.8L1692.8 923.2L1694.3 924.6L1695.7 926.0L1697.1 927.4L1698.6 928.8L1700.0 930.1L1701.4 931.5L1702.9 932.9L1704.3 934.3L1705.7 935.7L1707.1 937.1L1708.6 938.5L1710.0 939.9L1711.4 941.3L1712.8 942.7L1714.2 944.1L1715.6 945.5L1717.0 946.9" stroke="#00ffff"/>
<path d="M289.0 887.7L291.0 887.7L293.0 887.7L295.1 887.7L297.1 887.7L299.1 887.8L301.1 887.7L303.1 887.7L305.2 887.7L307.2 887.7L309.2 887.7L311.2 887.7L313.2 887.7L315.3 887.6L317.3 887.6L319.3 887.6L321.3 887.5L323.3 887.5L325.3 887.4L327.3 887.4L329.3 887.3L331.4 887.3L333.4 887.2L335.4 887.1L337.4 887.0L339.4 887.0L341.4 886.9L343.4 886.8L345.4 886.7L347.4 886.6L349.4 886.5L351.4 886.4L353.4 886.3L355.4 886.2L357.4 886.1L359.4 886.0L361.4 885.9L363.4 885.8L365.4 885.7L367.4 885.5L369.4 885.4L371.4 885.3L373.4 885.1L375.4 885.0L377.4 884.8L379.4 884.7L381.4 884.5L383.4 884.4L385.4 884.2L387.4 884.1L389.4 883.9L391.4 883.7L393.4 883.5L395.4 883.4L397.4 883.2L399.3 883.0L401.3 882.8L403.3 882.6L405.3 882.4L407.3 882.2L409.3 882.0L411.3 881.8L413.3 881.6L415.2 881.4L417.2 881.2L419.2 881.0L421.2 880.7L423.2 880.5L425.2 880.3L427.1 880.1L429.1 879.8L431.1 879.6L433.1 879.3L435.1 879.1L437.0 878.9L439.0 878.6L441.0 878.4L443.0 878.1L445.0 877.8L446.9 877.6L448.9 877.3L450.9 877.0L452.9 876.8L454.8 876.5L456.8 876.2L458.8 875.9L460.7 875.6L462.7 875.3L464.7 875.0L466.7 874.7L468.6 874.4L470.6 874.1L472.6 873.8L474.5 873.5L476.5 873.2L478.5 872.9L480.4 872.6L482.4 872.3L484.4 871.9L486.3 871.6L488.3 871.3L490.3 871.0L492.2 870.6L494.2 870.3L496.2 869.9L498.1 869.6L500.1 869.3L502.0 868.9L504.0 868.5L506.0 868.2L507.9 867.8L509.9 867.5L511.8 867.1L513.8 866.7L515.7 866.4L517.7 866.0L519.7 865.6L521.6 865.2L523.6 864.9L525.5 864.5L527.5 864.1L529.4 863.7L531.4 863.3L533.3 862.9L535.3 862.5L537.2 862.1L539.2 861.7L541.1 861.3L543.1 860.9L545.0 860.5L547.0 860.1L548.9 859.6L550.9 859.2L552.8 858.8L554.8 858.4L556.7 858.0L558.7 857.5L560.6 857.1L562.5 856.7L564.5 856.2L566.4 855.8L568.4 855.3L570.3 854.9L572.3 854.4L574.2 854.0L576.1 853.5L578.1 853.1L580.0 852.6L582.0 852.2L583.9 851.7L585.8 851.2L587.8 850.8L589.7 850.3L591.7 849.8L593.6 849.3L595.5 848.9L597.5 848.4L599.4 847.9L601.3 847.4L603.3 846.9L605.2 846.4L607.1 845.9L609.1 845.5L611.0 845.0L612.9 844.5L614.9 844.0L616.8 843.4L618.7 842.9L620.6 842.4L622.6 841.9L624.5 841.4L626.4 840.9L628.4 840.4L630.3 839.9L632.2 839.3L634.1 838.8L636.1 838.3L638.0 837.8L639.9 837.2L641.8 836.7L643.8 836.2L645.7 835.6L647.6 835.1L649.5 834.5L651.4 834.0L653.4 833.5L655.3 832.9L657.2 832.4L659.1 831.8L661.0 831.2L663.0 830.7L664.9 830.1L666.8 829.6L668.7 829.0L670.6 828.4L672.6 827.9L674.5 827.3L676.4 826.7L678.3 826.2L680.2 825.6L682.1 825.0L684.0 824.4L686.0 823.9L687.9 823.3L689.8 822.7L691.7 822.1L693.6 821.5L695.5 820.9L697.4 820.3L699.3 819.8L701.2 819.2L703.2 818.6L705.1 818.0L707.0 817.4L708.9 816.8L710.8 816.2L712.7 815.6L714.6 814.9L716.5 814.3L718.4 813.7L720.3 813.1L722.2 812.5L724.1 811.9L726.0 811.3L727.9 810.6L729.8 810.0L731.7 809.4L733.6 808.8L735.5 808.2L737.4 807.5L739.4 806.9L741.3 806.3L743.2 805.6L745.1 805.0L747.0 804.4L748.8 803.7L750.7 803.1L752.6 802.4L754.5 801.8L756.4 801.2L758.3 800.5L760.2 799.9L762.1 799.2L764.0 798.6L765.9 797.9L767.8 797.3L769.7 796.6L771.6 796.0L773.5 795.3L775.4 794.6L777.3 794.0L779.2 793.3L781.1 792.7L783.0 792.0L784.8 791.3L786.7 790.7L788.6 790.0L790.5 789.3L792.4 788.7L794.3 788.0L796.2 787.3L798.1 786.6L800.0 786.0L801.8 785.3L803.7 784.6L805.6 783.9L807.5 783.2L809.4 782.6L811.3 781.9L813.2 781.2L815.1 780.5L816.9 779.8L818.8 779.1L820.7 778.5L822.6 777.8L824.5 777.1L826.4 776.4L828.2 775.7L830.1 775.0L832.0 774.3L833.9 773.6L835.8 772.9L837.6 772.2L839.5 771.5L841.4 770.8L843.3 770.1L845.2 769.4L847.0 768.7L848.9 768.0L850.8 767.3L852.7 766.6L854.5 765.9L856.4 765.1L858.3 764.4L860.2 763.7L862.0 763.0L863.9 762.3L865.8 761.6L867.7 760.9L869.5 760.2L871.4 759.4L873.3 758.7L875.2 758.0L877.0 757.3L878.9 756.6L880.8 755.8L882.6 755.1L884.5 754.4L886.4 753.7L888.3 753.0L890.1 752.2L892.0 751.5L893.9 750.8L895.7 750.0L897.6 749.3L899.5 748.6L901.3 747.9L903.2 747.1L905.1 746.4L906.9 745.7L908.8 744.9L910.7 744.2L912.5 743.5L914.4 742.7L916.3 742.0L918.1 741.3L920.0 740.5L921.9 739.8L923.7 739.1L925.6 738.3L927.4 737.6L929.3 736.8L931.2 736.1L933.0 735.4L934.9 734.6L936.8 733.9L938.6 733.1L940.5 732.4L942.3 731.7L944.2 730.9L946.1 730.2L947.9 729.4L949.8 728.7L951.6 727.9L953.5 727.2L955.4 726.4L957.2 725.7L959.1 724.9L960.9 724.2L962.8 723.5L964.6 722.7L966.5 722.0L968.3 721.2L970.2 720.5L972.1 719.7L973.9 719.0L975.8 718.2L977.6 717.5L979.5 716.7L981.3 716.0L983.2 715.2L985.0 714.5L986.9 713.7L988.7 713.0L990.6 712.2L992.4 711.5L994.3 710.7L996.1 710.0L998.0 709.2L999.8 708.4L1001.7 707.7L1003.5 706.9L1005.4 706.2L1007.2 705.4L1009.1 704.7L1010.9 703.9L1012.8 703.2L1014.6 702.4L1016.5 701.7L1018.3 700.9L1020.2 700.2L1022.0 699.4L1023.9 698.7L1025.7 697.9L1027.6 697.2L1029.4 696.4L1031.3 695.6L1033.1 694.9L1035.0 694.1L1036.8 693.4L1038.6 692.6L1040.5 691.9L1042.3 691.1L1044.2 690.4L1046.0 689.7L1047.9 688.9L1049.7 688.2L1051.6 687.4L1053.4 686.7L1055.3 685.9L1057.1 685.2L1059.0 684.5L1060.8 683.7L1062.7 683.0L1064.5 682.3L1066.4 681.5L1068.2 680.8L1070.1 680.1L1071.9 679.4L1073.8 678.6L1075.7 677.9L1077.5 677.2L1079.4 676.5L1081.2 675.8L1083.1 675.1L1084.9 674.4L1086.8 673.7L1088.7 673.0L1090.5 672.3L1092.4 671.6L1094.3 670.9L1096.1 670.2L1098.0 669.5L1099.9 668.8L1101.8 668.2L1103.6 667.5L1105.5 666.8L1107.4 666.1L1109.3 665.5L1111.1 664.8L1113.0 664.2L1114.9 663.5L1116.8 662.9L1118.7 662.2L1120.6 661.6L1122.5 660.9L1124.3 660.3L1126.2 659.7L1128.1 659.1L1130.0 658.4L1131.9 657.8L1133.8 657.2L1135.7 656.6L1137.6 656.0L1139.5 655.4L1141.5 654.8L1143.4 654.2L1145.3 653.6L1147.2 653.1L1149.1 652.5L1151.0 651.9L1152.9 651.3L1154.9 650.8L1156.8 650.2L1158.7 649.6L1160.6 649.1L1162.5 648.5L1164.5 648.0L1166.4 647.4L1168.3 646.9L1170.2 646.3L1172.2 645.8L1174.1 645.3L1176.0 644.7L1178.0 644.2L1179.9 643.7L1181.8 643.1L1183.8 642.6L1185.7 642.1L1187.6 641.6L1189.6 641.1L1191.5 640.5L1193.4 640.0L1195.4 639.5L1197.3 639.0L1199.3 638.5L1201.2 638.0L1203.1 637.5L1205.1 637.0L1207.0 636.5L1209.0 636.0L1210.9 635.5L1212.8 635.0L1214.8 634.6L1216.7 634.1L1218.7 633.6L1220.6 633.1L1222.6 632.7L1224.5 632.2L1226.5 631.7L1228.4 631.3L1230.4 630.8L1232.3 630.4L1234.3 629.9L1236.2 629.5L1238.2 629.0L1240.1 628.6L1242.1 628.2L1244.0 627.8L1246.0 627.3L1247.9 626.9L1249.9 626.5L1251.9 626.1L1253.8 625.7L1255.8 625.3L1257.7 625.0L1259.7 624.6L1261.7 624.2L1263.6 623.9L1265.6 623.5L1267.6 623.2L1269.5 622.8L1271.5 622.5L1273.5 622.2L1275.5 621.8L1277.4 621.5L1279.4 621.2L1281.4 620.9L1283.4 620.7L1285.3 620.4L1287.3 620.1L1289.3 619.9L1291.3 619.6L1293.3 619.4L1295.3 619.1L1297.3 618.9L1299.2 618.7L1301.2 618.5L1303.2 618.3L1305.2 618.2L1307.2 618.0L1309.2 617.8L1311.2 617.7L1313.2 617.6L1315.2 617.5L1317.2 617.4L1319.1 617.3L1321.1 617.3L1323.1 617.2L1325.1 617.2L1327.1 617.2L1329.1 617.2L1331.1 617.2L1333.1 617.3L1335.1 617.3L1337.0 617.4L1339.0 617.5L1341.0 617.7L1343.0 617.8L1345.0 618.0L1346.9 618.1L1348.9 618.3L1350.9 618.6L1352.9 618.8L1354.8 619.0L1356.8 619.3L1358.8 619.6L1360.7 619.9L1362.7 620.2L1364.6 620.5L1366.6 620.9L1368.6 621.3L1370.5 621.7L1372.5 622.1L1374.4 622.5L1376.3 622.9L1378.3 623.3L1380.2 623.8L1382.2 624.3L1384.1 624.8L1386.0 625.3L1388.0 625.8L1389.9 626.3L1391.8 626.9L1393.7 627.5L1395.6 628.0L1397.5 628.6L1399.4 629.2L1401.4 629.8L1403.3 630.5L1405.1 631.1L1407.0 631.8L1408.9 632.4L1410.8 633.1L1412.7 633.8L1414.6 634.5L1416.4 635.2L1418.3 636.0L1420.2 636.7L1422.0 637.5L1423.9 638.2L1425.8 639.0L1427.6 639.8L1429.4 640.6L1431.3 641.4L1433.1 642.2L1434.9 643.0L1436.8 643.9L1438.6 644.7L1440.4 645.6L1442.2 646.4L1444.0 647.3L1445.8 648.2L1447.6 649.1L1449.4 650.0L1451.2 650.9L1453.0 651.8L1454.7 652.7L1456.5 653.6L1458.3 654.6L1460.0 655.5L1461.8 656.5L1463.6 657.4L1465.3 658.4L1467.0 659.4L1468.8 660.3L1470.5 661.3L1472.3 662.3L1474.0 663.3L1475.7 664.3L1477.4 665.3L1479.2 666.3L1480.9 667.3L1482.6 668.4L1484.3 669.4L1486.0 670.4L1487.7 671.4L1489.4 672.5L1491.1 673.5L1492.8 674.6L1494.5 675.6L1496.2 676.7L1497.9 677.7L1499.6 678.8L1501.3 679.8L1503.0 680.9L1504.7 681.9L1506.4 683.0L1508.1 684.0L1509.8 685.1L1511.5 686.2L1513.2 687.2L1514.8 688.3L1516.5 689.4L1518.2 690.4L1519.9 691.5L1521.6 692.5L1523.3 693.6L1525.0 694.7L1526.7 695.7L1528.4 696.8L1530.1 697.9L1531.7 698.9L1533.4 700.0L1535.1 701.1L1536.8 702.1L1538.5 703.2L1540.2 704.3L1541.9 705.3L1543.6 706.4L1545.3 707.5L1546.9 708.5L1548.6 709.6L1550.3 710.7L1552.0 711.7L1553.7 712.8L1555.4 713.9L1557.1 715.0L1558.7 716.0L1560.4 717.1L1562.1 718.2L1563.8 719.3L1565.5 720.3L1567.2 721.4L1568.8 722.5L1570.5 723.6L1572.2 724.7L1573.9 725.8L1575.5 726.9L1577.2 727.9L1578.9 729.0L1580.6 730.1L1582.2 731.2L1583.9 732.3L1585.6 733.4L1587.2 734.5L1588.9 735.6L1590.6 736.7L1592.2 737.8L1593.9 739.0L1595.6 740.1L1597.2 741.2L1598.9 742.3L1600.5 743.4L1602.2 744.5L1603.8 745.7L1605.5 746.8L1607.1 747.9L1608.8 749.0L1610.4 750.2L1612.1 751.3L1613.7 752.5L1615.4 753.6L1617.0 754.7L1618.6 755.9L1620.3 757.0L1621.9 758.2L1623.5 759.3L1625.2 760.5L1626.8 761.6L1628.4 762.8L1630.1 763.9L1631.7 765.1L1633.3 766.2L1635.0 767.4L1636.6 768.6L1638.2 769.7L1639.9 770.9L1641.5 772.0L1643.1 773.2L1644.8 774.3L1646.4 775.5L1648.0 776.6L1649.7 777.8L1651.3 778.9L1652.9 780.1L1654.6 781.2L1656.2 782.3L1657.8 783.5L1659.5 784.6L1661.1 785.7L1662.8 786.9L1664.4 788.0L1666.1 789.1L1667.7 790.3L1669.4 791.4L1671.0 792.5L1672.7 793.6L1674.4 794.7L1676.0 795.8L1677.7 796.9L1679.4 798.0L1681.0 799.1L1682.7 800.2L1684.4 801.2L1686.1 802.3L1687.7 803.4L1689.4 804.5L1691.1 805.5L1692.8 806.6L1694.5 807.6L1696.2 808.7L1697.9 809.7L1699.6 810.7L1701.4 811.7L1703.1 812.8L1704.8 813.8L1706.5 814.8L1708.3 815.8L1710.0 816.7L1711.7 817.7L1713.5 818.7L1715.2 819.6L1717.0 820.6" stroke="#0000ff"/>
<path d="M289.0 790.3L291.0 790.3L293.0 790.3L295.0 790.3L297.0 790.3L299.0 790.3L301.0 790.3L303.0 790.3L305.0 790.3L307.0 790.3L309.0 790.3L311.0 790.3L313.0 790.3L315.0 790.2L317.0 790.2L319.0 790.2L321.0 790.2L323.0 790.2L325.0 790.1L327.0 790.1L329.0 790.1L331.0 790.0L333.0 790.0L335.0 790.0L337.0 789.9L339.0 789.9L341.0 789.8L343.0 789.8L345.0 789.7L347.0 789.7L349.0 789.6L351.0 789.6L353.0 789.5L355.0 789.4L357.0 789.4L359.0 789.3L361.0 789.2L363.0 789.2L365.0 789.1L367.0 789.0L369.0 789.0L371.0 788.9L373.0 788.8L375.0 788.7L377.0 788.6L379.0 788.5L381.0 788.5L383.0 788.4L385.0 788.3L386.9 788.2L388.9 788.1L390.9 788.0L392.9 787.9L394.9 787.8L396.9 787.7L398.9 787.6L400.9 787.5L402.9 787.4L404.9 787.3L406.9 787.1L408.9 787.0L410.9 786.9L412.9 786.8L414.9 786.7L416.9 786.5L418.9 786.4L420.9 786.3L422.9 786.2L424.9 786.0L426.9 785.9L428.9 785.8L430.8 785.6L432.8 785.5L434.8 785.3L436.8 785.2L438.8 785.0L440.8 784.9L442.8 784.7L444.8 784.6L446.8 784.4L448.8 784.3L450.8 784.1L452.8 784.0L454.8 783.8L456.8 783.6L458.7 783.5L460.7 783.3L462.7 783.1L464.7 783.0L466.7 782.8L468.7 782.6L470.7 782.5L472.7 782.3L474.7 782.1L476.7 781.9L478.7 781.7L480.7 781.5L482.6 781.4L484.6 781.2L486.6 781.0L488.6 780.8L490.6 780.6L492.6 780.4L494.6 780.2L496.6 780.0L498.6 779.8L500.5 779.6L502.5 779.4L504.5 779.2L506.5 779.0L508.5 778.8L510.5 778.5L512.5 778.3L514.5 778.1L516.5 777.9L518.4 777.7L520.4 777.5L522.4 777.2L524.4 777.0L526.4 776.8L528.4 776.5L530.4 776.3L532.3 776.1L534.3 775.9L536.3 775.6L538.3 775.4L540.3 775.1L542.3 774.9L544.3 774.7L546.2 774.4L548.2 774.2L550.2 773.9L552.2 773.7L554.2 773.4L556.2 773.2L558.1 772.9L560.1 772.7L562.1 772.4L564.1 772.1L566.1 771.9L568.1 771.6L570.0 771.4L572.0 771.1L574.0 770.8L576.0 770.6L578.0 770.3L580.0 770.0L581.9 769.7L583.9 769.5L585.9 769.2L587.9 768.9L589.9 768.6L591.8 768.3L593.8 768.1L595.8 767.8L597.8 767.5L599.8 767.2L601.7 766.9L603.7 766.6L605.7 766.3L607.7 766.0L609.7 765.7L611.6 765.4L613.6 765.1L615.6 764.8L617.6 764.5L619.5 764.2L621.5 763.9L623.5 763.6L625.5 763.3L627.4 763.0L629.4 762.7L631.4 762.4L633.4 762.0L635.3 761.7L637.3 761.4L639.3 761.1L641.3 760.8L643.2 760.4L645.2 760.1L647.2 759.8L649.2 759.5L651.1 759.1L653.1 758.8L655.1 758.5L657.1 758.1L659.0 757.8L661.0 757.5L663.0 757.1L665.0 756.8L666.9 756.5L668.9 756.1L670.9 755.8L672.8 755.4L674.8 755.1L676.8 754.7L678.7 754.4L680.7 754.0L682.7 753.7L684.7 753.3L686.6 753.0L688.6 752.6L690.6 752.3L692.5 751.9L694.5 751.5L696.5 751.2L698.4 750.8L700.4 750.4L702.4 750.1L704.3 749.7L706.3 749.3L708.3 749.0L710.2 748.6L712.2 748.2L714.2 747.9L716.1 747.5L718.1 747.1L720.1 746.7L722.0 746.3L724.0 746.0L726.0 745.6L727.9 745.2L729.9 744.8L731.8 744.4L733.8 744.0L735.8 743.6L737.7 743.3L739.7 742.9L741.7 742.5L743.6 742.1L745.6 741.7L747.5 741.3L749.5 740.9L751.5 740.5L753.4 740.1L755.4 739.7L757.3 739.3L759.3 738.9L761.3 738.5L763.2 738.1L765.2 737.7L767.1 737.3L769.1 736.8L771.0 736.4L773.0 736.0L775.0 735.6L776.9 735.2L778.9 734.8L780.8 734.4L782.8 733.9L784.7 733.5L786.7 733.1L788.7 732.7L790.6 732.2L792.6 731.8L794.5 731.4L796.5 731.0L798.4 730.5L800.4 730.1L802.3 729.7L804.3 729.3L806.2 728.8L808.2 728.4L810.1 728.0L812.1 727.5L814.0 727.1L816.0 726.7L818.0 726.2L819.9 725.8L821.9 725.4L823.8 724.9L825.8 724.5L827.7 724.0L829.7 723.6L831.6 723.2L833.6 722.7L835.5 722.3L837.5 721.8L839.4 721.4L841.4 721.0L843.3 720.5L845.3 720.1L847.2 719.6L849.2 719.2L851.1 718.7L853.1 718.3L855.0 717.8L857.0 717.4L858.9 716.9L860.9 716.5L862.8 716.0L864.7 715.6L866.7 715.2L868.6 714.7L870.6 714.3L872.5 713.8L874.5 713.4L876.4 712.9L878.4 712.5L880.3 712.0L882.3 711.6L884.2 711.1L886.2 710.7L888.1 710.2L890.1 709.8L892.0 709.3L894.0 708.9L895.9 708.4L897.9 708.0L899.8 707.5L901.8 707.1L903.7 706.6L905.7 706.2L907.6 705.7L909.6 705.3L911.5 704.8L913.4 704.4L915.4 703.9L917.3 703.5L919.3 703.0L921.2 702.6L923.2 702.1L925.1 701.7L927.1 701.2L929.0 700.8L931.0 700.3L932.9 699.9L934.9 699.4L936.8 699.0L938.8 698.5L940.7 698.1L942.7 697.6L944.6 697.2L946.6 696.7L948.5 696.3L950.5 695.9L952.4 695.4L954.4 695.0L956.3 694.5L958.3 694.1L960.2 693.7L962.2 693.2L964.1 692.8L966.1 692.3L968.0 691.9L970.0 691.5L971.9 691.0L973.9 690.6L975.8 690.2L977.8 689.7L979.7 689.3L981.7 688.9L983.6 688.4L985.6 688.0L987.5 687.6L989.5 687.1L991.4 686.7L993.4 686.3L995.3 685.9L997.3 685.4L999.2 685.0L1001.2 684.6L1003.2 684.2L1005.1 683.7L1007.1 683.3L1009.0 682.9L1011.0 682.5L1012.9 682.1L1014.9 681.7L1016.8 681.2L1018.8 680.8L1020.7 680.4L1022.7 680.0L1024.7 679.6L1026.6 679.2L1028.6 678.8L1030.5 678.4L1032.5 678.0L1034.4 677.6L1036.4 677.2L1038.4 676.8L1040.3 676.4L1042.3 676.0L1044.2 675.6L1046.2 675.2L1048.2 674.8L1050.1 674.4L1052.1 674.0L1054.0 673.6L1056.0 673.2L1058.0 672.8L1059.9 672.5L1061.9 672.1L1063.9 671.7L1065.8 671.3L1067.8 670.9L1069.7 670.6L1071.7 670.2L1073.7 669.8L1075.6 669.5L1077.6 669.1L1079.6 668.7L1081.5 668.4L1083.5 668.0L1085.5 667.6L1087.4 667.3L1089.4 666.9L1091.4 666.6L1093.3 666.2L1095.3 665.8L1097.3 665.5L1099.3 665.2L1101.2 664.8L1103.2 664.5L1105.2 664.1L1107.1 663.8L1109.1 663.4L1111.1 663.1L1113.1 662.8L1115.0 662.4L1117.0 662.1L1119.0 661.8L1120.9 661.5L1122.9 661.1L1124.9 660.8L1126.9 660.5L1128.8 660.2L1130.8 659.9L1132.8 659.6L1134.8 659.3L1136.8 659.0L1138.7 658.7L1140.7 658.4L1142.7 658.1L1144.7 657.8L1146.7 657.5L1148.6 657.2L1150.6 657.0L1152.6 656.7L1154.6 656.4L1156.6 656.1L1158.5 655.9L1160.5 655.6L1162.5 655.4L1164.5 655.1L1166.5 654.9L1168.5 654.6L1170.4 654.4L1172.4 654.1L1174.4 653.9L1176.4 653.7L1178.4 653.5L1180.4 653.2L1182.4 653.0L1184.3 652.8L1186.3 652.6L1188.3 652.4L1190.3 652.2L1192.3 652.0L1194.3 651.8L1196.3 651.6L1198.3 651.5L1200.2 651.3L1202.2 651.1L1204.2 651.0L1206.2 650.8L1208.2 650.6L1210.2 650.5L1212.2 650.3L1214.2 650.2L1216.2 650.1L1218.2 650.0L1220.1 649.8L1222.1 649.7L1224.1 649.6L1226.1 649.5L1228.1 649.4L1230.1 649.3L1232.1 649.2L1234.1 649.1L1236.1 649.1L1238.1 649.0L1240.1 648.9L1242.1 648.9L1244.1 648.8L1246.1 648.8L1248.1 648.7L1250.1 648.7L1252.1 648.7L1254.1 648.7L1256.0 648.6L1258.0 648.6L1260.0 648.6L1262.0 648.6L1264.0 648.7L1266.0 648.7L1268.0 648.7L1270.0 648.7L1272.0 648.8L1274.0 648.8L1276.0 648.9L1278.0 648.9L1280.0 649.0L1282.0 649.1L1284.0 649.1L1286.0 649.2L1288.0 649.3L1290.0 649.4L1292.0 649.5L1294.0 649.6L1296.0 649.7L1298.0 649.8L1300.0 649.9L1302.0 650.0L1304.0 650.1L1306.0 650.3L1308.0 650.4L1310.0 650.5L1312.0 650.7L1314.0 650.8L1316.0 651.0L1318.0 651.1L1320.0 651.3L1322.0 651.4L1324.0 651.6L1326.0 651.8L1328.0 652.0L1330.0 652.1L1332.0 652.3L1334.0 652.5L1336.0 652.7L1338.0 652.9L1340.0 653.0L1342.0 653.2L1344.0 653.4L1346.0 653.6L1347.9 653.8L1349.9 654.0L1351.9 654.2L1353.9 654.4L1355.9 654.6L1357.9 654.8L1359.9 655.1L1361.9 655.3L1363.9 655.5L1365.9 655.7L1367.9 655.9L1369.9 656.1L1371.9 656.4L1373.8 656.6L1375.8 656.8L1377.8 657.0L1379.8 657.2L1381.8 657.5L1383.8 657.7L1385.8 657.9L1387.7 658.1L1389.7 658.4L1391.7 658.6L1393.7 658.8L1395.7 659.1L1397.7 659.3L1399.6 659.6L1401.6 659.8L1403.6 660.1L1405.6 660.3L1407.6 660.6L1409.5 660.8L1411.5 661.1L1413.5 661.4L1415.5 661.7L1417.4 662.0L1419.4 662.3L1421.4 662.6L1423.3 662.9L1425.3 663.2L1427.3 663.5L1429.2 663.8L1431.2 664.2L1433.2 664.5L1435.1 664.9L1437.1 665.3L1439.0 665.7L1441.0 666.0L1442.9 666.4L1444.9 666.8L1446.9 667.3L1448.8 667.7L1450.7 668.1L1452.7 668.5L1454.6 669.0L1456.6 669.4L1458.5 669.9L1460.5 670.4L1462.4 670.8L1464.3 671.3L1466.3 671.8L1468.2 672.3L1470.1 672.8L1472.1 673.4L1474.0 673.9L1475.9 674.4L1477.8 675.0L1479.8 675.5L1481.7 676.1L1483.6 676.6L1485.5 677.2L1487.4 677.7L1489.4 678.3L1491.3 678.9L1493.2 679.4L1495.1 680.0L1497.0 680.6L1498.9 681.1L1500.9 681.7L1502.8 682.2L1504.7 682.8L1506.6 683.3L1508.5 683.8L1510.5 684.4L1512.4 684.9L1514.3 685.4L1516.2 685.9L1518.2 686.4L1520.1 686.9L1522.0 687.4L1524.0 687.8L1525.9 688.3L1527.8 688.8L1529.8 689.2L1531.7 689.6L1533.7 690.1L1535.6 690.5L1537.6 690.9L1539.5 691.3L1541.5 691.7L1543.4 692.1L1545.4 692.5L1547.4 692.8L1549.3 693.2L1551.3 693.6L1553.2 694.0L1555.2 694.3L1557.2 694.7L1559.1 695.1L1561.1 695.4L1563.0 695.8L1565.0 696.2L1567.0 696.6L1568.9 696.9L1570.9 697.3L1572.8 697.7L1574.8 698.1L1576.7 698.5L1578.7 698.9L1580.7 699.4L1582.6 699.8L1584.6 700.2L1586.5 700.6L1588.5 701.1L1590.4 701.5L1592.4 701.9L1594.3 702.4L1596.2 702.8L1598.2 703.3L1600.1 703.8L1602.1 704.2L1604.0 704.7L1606.0 705.1L1607.9 705.6L1609.9 706.1L1611.8 706.6L1613.7 707.0L1615.7 707.5L1617.6 708.0L1619.6 708.5L1621.5 709.0L1623.4 709.4L1625.4 709.9L1627.3 710.4L1629.3 710.9L1631.2 711.4L1633.1 711.9L1635.1 712.4L1637.0 712.9L1639.0 713.3L1640.9 713.8L1642.8 714.3L1644.8 714.8L1646.7 715.3L1648.7 715.8L1650.6 716.3L1652.5 716.8L1654.5 717.2L1656.4 717.7L1658.4 718.2L1660.3 718.7L1662.2 719.2L1664.2 719.6L1666.1 720.1L1668.1 720.6L1670.0 721.0L1672.0 721.5L1673.9 722.0L1675.9 722.4L1677.8 722.9L1679.7 723.3L1681.7 723.8L1683.6 724.2L1685.6 724.6L1687.5 725.1L1689.5 725.5L1691.4 725.9L1693.4 726.3L1695.4 726.7L1697.3 727.1L1699.3 727.5L1701.2 727.9L1703.2 728.3L1705.2 728.6L1707.1 729.0L1709.1 729.3L1711.1 729.7L1713.0 730.0L1715.0 730.3L1717.0 730.6" stroke="#00ff00"/>
<path d="M289.0 756.1L291.0 756.1L293.0 756.1L295.0 756.1L297.0 756.1L299.0 756.1L301.0 756.1L303.0 756.1L305.0 756.1L307.0 756.1L309.0 756.1L311.0 756.1L313.1 756.1L315.1 756.1L317.1 756.1L319.1 756.1L321.1 756.1L323.1 756.0L325.1 756.0L327.1 756.0L329.1 756.0L331.1 756.0L333.1 755.9L335.1 755.9L337.1 755.9L339.1 755.8L341.1 755.8L343.1 755.8L345.1 755.7L347.1 755.7L349.1 755.7L351.1 755.6L353.1 755.6L355.1 755.6L357.1 755.5L359.1 755.5L361.1 755.4L363.1 755.4L365.1 755.3L367.1 755.3L369.1 755.2L371.1 755.2L373.1 755.1L375.1 755.0L377.1 755.0L379.0 754.9L381.0 754.9L383.0 754.8L385.0 754.7L387.0 754.7L389.0 754.6L391.0 754.5L393.0 754.4L395.0 754.4L397.0 754.3L399.0 754.2L401.0 754.1L403.0 754.1L405.0 754.0L407.0 753.9L409.0 753.8L411.0 753.7L413.0 753.6L415.0 753.6L417.0 753.5L419.0 753.4L420.9 753.3L422.9 753.2L424.9 753.1L426.9 753.0L428.9 752.9L430.9 752.8L432.9 752.7L434.9 752.6L436.9 752.5L438.9 752.4L440.9 752.3L442.9 752.2L444.9 752.0L446.8 751.9L448.8 751.8L450.8 751.7L452.8 751.6L454.8 751.5L456.8 751.4L458.8 751.2L460.8 751.1L462.8 751.0L464.8 750.9L466.8 750.7L468.7 750.6L470.7 750.5L472.7 750.4L474.7 750.2L476.7 750.1L478.7 750.0L480.7 749.8L482.7 749.7L484.7 749.5L486.6 749.4L488.6 749.3L490.6 749.1L492.6 749.0L494.6 748.8L496.6 748.7L498.6 748.5L500.6 748.4L502.5 748.2L504.5 748.1L506.5 747.9L508.5 747.8L510.5 747.6L512.5 747.4L514.5 747.3L516.5 747.1L518.4 747.0L520.4 746.8L522.4 746.6L524.4 746.5L526.4 746.3L528.4 746.1L530.4 746.0L532.3 745.8L534.3 745.6L536.3 745.4L538.3 745.3L540.3 745.1L542.3 744.9L544.3 744.7L546.2 744.6L548.2 744.4L550.2 744.2L552.2 744.0L554.2 743.8L556.2 743.6L558.1 743.4L560.1 743.3L562.1 743.1L564.1 742.9L566.1 742.7L568.1 742.5L570.1 742.3L572.0 742.1L574.0 741.9L576.0 741.7L578.0 741.5L580.0 741.3L582.0 741.1L583.9 740.9L585.9 740.7L587.9 740.5L589.9 740.3L591.9 740.1L593.8 739.8L595.8 739.6L597.8 739.4L599.8 739.2L601.8 739.0L603.8 738.8L605.7 738.6L607.7 738.3L609.7 738.1L611.7 737.9L613.7 737.7L615.6 737.4L617.6 737.2L619.6 737.0L621.6 736.8L623.6 736.5L625.6 736.3L627.5 736.1L629.5 735.8L631.5 735.6L633.5 735.4L635.5 735.1L637.4 734.9L639.4 734.7L641.4 734.4L643.4 734.2L645.4 733.9L647.3 733.7L649.3 733.5L651.3 733.2L653.3 733.0L655.3 732.7L657.2 732.5L659.2 732.2L661.2 732.0L663.2 731.7L665.2 731.5L667.1 731.2L669.1 730.9L671.1 730.7L673.1 730.4L675.0 730.2L677.0 729.9L679.0 729.7L681.0 729.4L683.0 729.1L684.9 728.9L686.9 728.6L688.9 728.3L690.9 728.1L692.9 727.8L694.8 727.5L696.8 727.3L698.8 727.0L700.8 726.7L702.7 726.4L704.7 726.2L706.7 725.9L708.7 725.6L710.7 725.3L712.6 725.1L714.6 724.8L716.6 724.5L718.6 724.2L720.5 723.9L722.5 723.6L724.5 723.4L726.5 723.1L728.5 722.8L730.4 722.5L732.4 722.2L734.4 721.9L736.4 721.6L738.3 721.3L740.3 721.0L742.3 720.8L744.3 720.5L746.3 720.2L748.2 719.9L750.2 719.6L752.2 719.3L754.2 719.0L756.1 718.7L758.1 718.4L760.1 718.1L762.1 717.8L764.0 717.4L766.0 717.1L768.0 716.8L770.0 716.5L772.0 716.2L773.9 715.9L775.9 715.6L777.9 715.3L779.9 715.0L781.8 714.7L783.8 714.3L785.8 714.0L787.8 713.7L789.7 713.4L791.7 713.1L793.7 712.8L795.7 712.4L797.6 712.1L799.6 711.8L801.6 711.5L803.6 711.2L805.6 710.8L807.5 710.5L809.5 710.2L811.5 709.9L813.5 709.5L815.4 709.2L817.4 708.9L819.4 708.6L821.4 708.2L823.3 707.9L825.3 707.6L827.3 707.3L829.3 706.9L831.2 706.6L833.2 706.3L835.2 705.9L837.2 705.6L839.1 705.3L841.1 705.0L843.1 704.6L845.1 704.3L847.0 704.0L849.0 703.6L851.0 703.3L853.0 703.0L855.0 702.6L856.9 702.3L858.9 702.0L860.9 701.6L862.9 701.3L864.8 701.0L866.8 700.6L868.8 700.3L870.8 700.0L872.7 699.6L874.7 699.3L876.7 699.0L878.7 698.6L880.6 698.3L882.6 698.0L884.6 697.6L886.6 697.3L888.5 697.0L890.5 696.6L892.5 696.3L894.5 696.0L896.5 695.6L898.4 695.3L900.4 695.0L902.4 694.7L904.4 694.3L906.3 694.0L908.3 693.7L910.3 693.3L912.3 693.0L914.2 692.7L916.2 692.3L918.2 692.0L920.2 691.7L922.1 691.4L924.1 691.0L926.1 690.7L928.1 690.4L930.1 690.1L932.0 689.7L934.0 689.4L936.0 689.1L938.0 688.8L939.9 688.4L941.9 688.1L943.9 687.8L945.9 687.5L947.8 687.2L949.8 686.8L951.8 686.5L953.8 686.2L955.8 685.9L957.7 685.6L959.7 685.2L961.7 684.9L963.7 684.6L965.6 684.3L967.6 684.0L969.6 683.7L971.6 683.4L973.6 683.1L975.5 682.8L977.5 682.4L979.5 682.1L981.5 681.8L983.4 681.5L985.4 681.2L987.4 680.9L989.4 680.6L991.4 680.3L993.3 680.0L995.3 679.7L997.3 679.4L999.3 679.1L1001.2 678.8L1003.2 678.5L1005.2 678.2L1007.2 677.9L1009.2 677.7L1011.1 677.4L1013.1 677.1L1015.1 676.8L1017.1 676.5L1019.1 676.2L1021.0 675.9L1023.0 675.7L1025.0 675.4L1027.0 675.1L1028.9 674.8L1030.9 674.5L1032.9 674.3L1034.9 674.0L1036.9 673.7L1038.8 673.5L1040.8 673.2L1042.8 672.9L1044.8 672.7L1046.8 672.4L1048.7 672.1L1050.7 671.9L1052.7 671.6L1054.7 671.4L1056.7 671.1L1058.6 670.8L1060.6 670.6L1062.6 670.3L1064.6 670.1L1066.6 669.8L1068.5 669.6L1070.5 669.4L1072.5 669.1L1074.5 668.9L1076.5 668.6L1078.5 668.4L1080.4 668.2L1082.4 667.9L1084.4 667.7L1086.4 667.5L1088.4 667.2L1090.3 667.0L1092.3 666.8L1094.3 666.6L1096.3 666.4L1098.3 666.1L1100.3 665.9L1102.2 665.7L1104.2 665.5L1106.2 665.3L1108.2 665.1L1110.2 664.9L1112.1 664.7L1114.1 664.5L1116.1 664.3L1118.1 664.1L1120.1 663.9L1122.1 663.7L1124.0 663.5L1126.0 663.3L1128.0 663.1L1130.0 663.0L1132.0 662.8L1134.0 662.6L1136.0 662.4L1137.9 662.3L1139.9 662.1L1141.9 661.9L1143.9 661.8L1145.9 661.6L1147.9 661.4L1149.8 661.3L1151.8 661.1L1153.8 661.0L1155.8 660.8L1157.8 660.7L1159.8 660.5L1161.8 660.4L1163.7 660.2L1165.7 660.1L1167.7 660.0L1169.7 659.8L1171.7 659.7L1173.7 659.6L1175.7 659.5L1177.6 659.3L1179.6 659.2L1181.6 659.1L1183.6 659.0L1185.6 658.9L1187.6 658.8L1189.6 658.7L1191.6 658.6L1193.5 658.5L1195.5 658.4L1197.5 658.3L1199.5 658.2L1201.5 658.1L1203.5 658.0L1205.5 657.9L1207.5 657.9L1209.5 657.8L1211.4 657.7L1213.4 657.7L1215.4 657.6L1217.4 657.5L1219.4 657.5L1221.4 657.4L1223.4 657.4L1225.4 657.3L1227.4 657.3L1229.3 657.2L1231.3 657.2L1233.3 657.1L1235.3 657.1L1237.3 657.1L1239.3 657.1L1241.3 657.0L1243.3 657.0L1245.3 657.0L1247.3 657.0L1249.3 657.0L1251.3 657.0L1253.2 657.0L1255.2 657.0L1257.2 657.0L1259.2 657.0L1261.2 657.0L1263.2 657.0L1265.2 657.0L1267.2 657.0L1269.2 657.1L1271.2 657.1L1273.2 657.1L1275.2 657.2L1277.2 657.2L1279.2 657.2L1281.1 657.3L1283.1 657.3L1285.1 657.4L1287.1 657.4L1289.1 657.5L1291.1 657.6L1293.1 657.6L1295.1 657.7L1297.1 657.8L1299.1 657.8L1301.1 657.9L1303.1 658.0L1305.1 658.1L1307.1 658.2L1309.1 658.3L1311.1 658.4L1313.1 658.5L1315.1 658.6L1317.1 658.7L1319.0 658.8L1321.0 658.9L1323.0 659.0L1325.0 659.1L1327.0 659.2L1329.0 659.3L1331.0 659.5L1333.0 659.6L1335.0 659.7L1337.0 659.8L1339.0 660.0L1341.0 660.1L1343.0 660.3L1345.0 660.4L1347.0 660.6L1349.0 660.7L1351.0 660.9L1352.9 661.0L1354.9 661.2L1356.9 661.3L1358.9 661.5L1360.9 661.7L1362.9 661.8L1364.9 662.0L1366.9 662.2L1368.9 662.3L1370.9 662.5L1372.9 662.7L1374.9 662.9L1376.9 663.1L1378.9 663.3L1380.8 663.4L1382.8 663.6L1384.8 663.8L1386.8 664.0L1388.8 664.2L1390.8 664.4L1392.8 664.6L1394.8 664.9L1396.8 665.1L1398.8 665.3L1400.7 665.5L1402.7 665.7L1404.7 665.9L1406.7 666.2L1408.7 666.4L1410.7 666.6L1412.7 666.8L1414.7 667.1L1416.7 667.3L1418.6 667.5L1420.6 667.8L1422.6 668.0L1424.6 668.3L1426.6 668.5L1428.6 668.7L1430.6 669.0L1432.5 669.2L1434.5 669.5L1436.5 669.7L1438.5 670.0L1440.5 670.3L1442.5 670.5L1444.4 670.8L1446.4 671.0L1448.4 671.3L1450.4 671.6L1452.4 671.8L1454.3 672.1L1456.3 672.4L1458.3 672.7L1460.3 672.9L1462.3 673.2L1464.2 673.5L1466.2 673.8L1468.2 674.1L1470.2 674.3L1472.2 674.6L1474.1 674.9L1476.1 675.2L1478.1 675.5L1480.1 675.8L1482.0 676.1L1484.0 676.4L1486.0 676.7L1488.0 677.0L1490.0 677.3L1491.9 677.5L1493.9 677.8L1495.9 678.1L1497.9 678.4L1499.8 678.7L1501.8 679.1L1503.8 679.4L1505.8 679.7L1507.7 680.0L1509.7 680.3L1511.7 680.6L1513.7 680.9L1515.6 681.2L1517.6 681.5L1519.6 681.8L1521.5 682.1L1523.5 682.4L1525.5 682.8L1527.5 683.1L1529.4 683.4L1531.4 683.7L1533.4 684.0L1535.4 684.3L1537.3 684.6L1539.3 685.0L1541.3 685.3L1543.3 685.6L1545.2 685.9L1547.2 686.2L1549.2 686.5L1551.1 686.9L1553.1 687.2L1555.1 687.5L1557.1 687.8L1559.0 688.1L1561.0 688.5L1563.0 688.8L1564.9 689.1L1566.9 689.4L1568.9 689.7L1570.9 690.0L1572.8 690.4L1574.8 690.7L1576.8 691.0L1578.7 691.3L1580.7 691.6L1582.7 692.0L1584.7 692.3L1586.6 692.6L1588.6 692.9L1590.6 693.2L1592.5 693.5L1594.5 693.9L1596.5 694.2L1598.5 694.5L1600.4 694.8L1602.4 695.1L1604.4 695.4L1606.3 695.7L1608.3 696.1L1610.3 696.4L1612.3 696.7L1614.2 697.0L1616.2 697.3L1618.2 697.6L1620.2 697.9L1622.1 698.2L1624.1 698.5L1626.1 698.8L1628.0 699.1L1630.0 699.4L1632.0 699.7L1634.0 700.0L1635.9 700.3L1637.9 700.6L1639.9 700.9L1641.9 701.2L1643.8 701.5L1645.8 701.8L1647.8 702.1L1649.8 702.4L1651.7 702.7L1653.7 703.0L1655.7 703.3L1657.7 703.6L1659.6 703.9L1661.6 704.1L1663.6 704.4L1665.6 704.7L1667.5 705.0L1669.5 705.3L1671.5 705.5L1673.5 705.8L1675.4 706.1L1677.4 706.4L1679.4 706.6L1681.4 706.9L1683.3 707.2L1685.3 707.4L1687.3 707.7L1689.3 708.0L1691.3 708.2L1693.2 708.5L1695.2 708.7L1697.2 709.0L1699.2 709.2L1701.2 709.5L1703.1 709.7L1705.1 710.0L1707.1 710.2L1709.1 710.5L1711.1 710.7L1713.0 710.9L1715.0 711.2L1717.0 711.4" stroke="#ff0000"/>
<path d="M289.0 703.4L291.0 703.4L293.0 703.5L295.0 703.5L297.0 703.5L299.0 703.5L301.0 703.6L303.0 703.6L305.0 703.6L307.0 703.6L309.0 703.7L311.0 703.7L313.0 703.7L315.0 703.7L317.0 703.7L319.0 703.7L321.0 703.8L323.0 703.8L325.0 703.8L327.0 703.8L329.0 703.8L331.0 703.8L333.0 703.8L335.0 703.8L337.0 703.8L339.0 703.8L341.0 703.8L343.0 703.8L345.0 703.8L347.0 703.8L349.0 703.8L351.0 703.8L353.0 703.8L355.0 703.8L357.0 703.8L359.0 703.8L361.0 703.8L363.0 703.8L365.0 703.7L367.0 703.7L369.0 703.7L371.0 703.7L373.0 703.7L375.0 703.7L377.0 703.7L379.0 703.6L381.0 703.6L383.0 703.6L385.0 703.6L387.0 703.5L389.0 703.5L391.0 703.5L393.0 703.5L395.0 703.4L397.0 703.4L399.0 703.4L401.0 703.4L403.0 703.3L405.0 703.3L407.0 703.3L409.0 703.2L411.0 703.2L413.0 703.2L415.0 703.1L417.0 703.1L418.9 703.0L420.9 703.0L422.9 703.0L424.9 702.9L426.9 702.9L428.9 702.8L430.9 702.8L432.9 702.7L434.9 702.7L436.9 702.6L438.9 702.6L440.9 702.5L442.9 702.5L444.9 702.4L446.9 702.4L448.9 702.3L450.9 702.3L452.9 702.2L454.9 702.2L456.9 702.1L458.9 702.1L460.9 702.0L462.9 702.0L464.9 701.9L466.9 701.8L468.9 701.8L470.9 701.7L472.9 701.6L474.9 701.6L476.9 701.5L478.9 701.5L480.9 701.4L482.9 701.3L484.9 701.3L486.9 701.2L488.9 701.1L490.9 701.1L492.9 701.0L494.9 700.9L496.9 700.8L498.9 700.8L500.9 700.7L502.9 700.6L504.9 700.5L506.9 700.5L508.9 700.4L510.9 700.3L512.9 700.2L514.9 700.2L516.8 700.1L518.8 700.0L520.8 699.9L522.8 699.8L524.8 699.8L526.8 699.7L528.8 699.6L530.8 699.5L532.8 699.4L534.8 699.3L536.8 699.3L538.8 699.2L540.8 699.1L542.8 699.0L544.8 698.9L546.8 698.8L548.8 698.7L550.8 698.6L552.8 698.6L554.8 698.5L556.8 698.4L558.8 698.3L560.8 698.2L562.8 698.1L564.8 698.0L566.8 697.9L568.8 697.8L570.8 697.7L572.8 697.6L574.8 697.5L576.8 697.4L578.8 697.3L580.8 697.2L582.8 697.1L584.8 697.0L586.8 696.9L588.8 696.8L590.7 696.7L592.7 696.6L594.7 696.5L596.7 696.4L598.7 696.3L600.7 696.2L602.7 696.1L604.7 696.0L606.7 695.9L608.7 695.8L610.7 695.7L612.7 695.6L614.7 695.5L616.7 695.4L618.7 695.3L620.7 695.2L622.7 695.1L624.7 694.9L626.7 694.8L628.7 694.7L630.7 694.6L632.7 694.5L634.7 694.4L636.7 694.3L638.7 694.2L640.7 694.1L642.7 693.9L644.7 693.8L646.7 693.7L648.7 693.6L650.7 693.5L652.6 693.4L654.6 693.3L656.6 693.2L658.6 693.0L660.6 692.9L662.6 692.8L664.6 692.7L666.6 692.6L668.6 692.5L670.6 692.3L672.6 692.2L674.6 692.1L676.6 692.0L678.6 691.9L680.6 691.8L682.6 691.6L684.6 691.5L686.6 691.4L688.6 691.3L690.6 691.2L692.6 691.0L694.6 690.9L696.6 690.8L698.6 690.7L700.6 690.6L702.6 690.4L704.6 690.3L706.6 690.2L708.6 690.1L710.5 690.0L712.5 689.8L714.5 689.7L716.5 689.6L718.5 689.5L720.5 689.3L722.5 689.2L724.5 689.1L726.5 689.0L728.5 688.9L730.5 688.7L732.5 688.6L734.5 688.5L736.5 688.4L738.5 688.2L740.5 688.1L742.5 688.0L744.5 687.9L746.5 687.7L748.5 687.6L750.5 687.5L752.5 687.4L754.5 687.2L756.5 687.1L758.5 687.0L760.5 686.9L762.5 686.7L764.4 686.6L766.4 686.5L768.4 686.4L770.4 686.2L772.4 686.1L774.4 686.0L776.4 685.9L778.4 685.7L780.4 685.6L782.4 685.5L784.4 685.4L786.4 685.2L788.4 685.1L790.4 685.0L792.4 684.9L794.4 684.7L796.4 684.6L798.4 684.5L800.4 684.4L802.4 684.2L804.4 684.1L806.4 684.0L808.4 683.9L810.4 683.7L812.4 683.6L814.4 683.5L816.4 683.4L818.3 683.2L820.3 683.1L822.3 683.0L824.3 682.9L826.3 682.7L828.3 682.6L830.3 682.5L832.3 682.4L834.3 682.2L836.3 682.1L838.3 682.0L840.3 681.9L842.3 681.8L844.3 681.6L846.3 681.5L848.3 681.4L850.3 681.3L852.3 681.1L854.3 681.0L856.3 680.9L858.3 680.8L860.3 680.7L862.3 680.5L864.3 680.4L866.3 680.3L868.3 680.2L870.2 680.0L872.2 679.9L874.2 679.8L876.2 679.7L878.2 679.6L880.2 679.4L882.2 679.3L884.2 679.2L886.2 679.1L888.2 679.0L890.2 678.8L892.2 678.7L894.2 678.6L896.2 678.5L898.2 678.4L900.2 678.3L902.2 678.1L904.2 678.0L906.2 677.9L908.2 677.8L910.2 677.7L912.2 677.6L914.2 677.5L916.2 677.3L918.2 677.2L920.2 677.1L922.1 677.0L924.1 676.9L926.1 676.8L928.1 676.7L930.1 676.5L932.1 676.4L934.1 676.3L936.1 676.2L938.1 676.1L940.1 676.0L942.1 675.9L944.1 675.8L946.1 675.7L948.1 675.6L950.1 675.4L952.1 675.3L954.1 675.2L956.1 675.1L958.1 675.0L960.1 674.9L962.1 674.8L964.1 674.7L966.1 674.6L968.1 674.5L970.1 674.4L972.1 674.3L974.1 674.2L976.1 674.1L978.0 674.0L980.0 673.9L982.0 673.8L984.0 673.7L986.0 673.6L988.0 673.5L990.0 673.4L992.0 673.3L994.0 673.2L996.0 673.1L998.0 673.0L1000.0 672.9L1002.0 672.8L1004.0 672.7L1006.0 672.6L1008.0 672.5L1010.0 672.4L1012.0 672.3L1014.0 672.2L1016.0 672.1L1018.0 672.0L1020.0 672.0L1022.0 671.9L1024.0 671.8L1026.0 671.7L1028.0 671.6L1030.0 671.5L1032.0 671.4L1034.0 671.3L1035.9 671.3L1037.9 671.2L1039.9 671.1L1041.9 671.0L1043.9 670.9L1045.9 670.8L1047.9 670.8L1049.9 670.7L1051.9 670.6L1053.9 670.5L1055.9 670.4L1057.9 670.4L1059.9 670.3L1061.9 670.2L1063.9 670.1L1065.9 670.1L1067.9 670.0L1069.9 669.9L1071.9 669.8L1073.9 669.8L1075.9 669.7L1077.9 669.6L1079.9 669.5L1081.9 669.5L1083.9 669.4L1085.9 669.3L1087.9 669.3L1089.9 669.2L1091.9 669.1L1093.9 669.1L1095.9 669.0L1097.8 668.9L1099.8 668.9L1101.8 668.8L1103.8 668.8L1105.8 668.7L1107.8 668.6L1109.8 668.6L1111.8 668.5L1113.8 668.5L1115.8 668.4L1117.8 668.4L1119.8 668.3L1121.8 668.3L1123.8 668.2L1125.8 668.1L1127.8 668.1L1129.8 668.0L1131.8 668.0L1133.8 667.9L1135.8 667.9L1137.8 667.9L1139.8 667.8L1141.8 667.8L1143.8 667.7L1145.8 667.7L1147.8 667.6L1149.8 667.6L1151.8 667.6L1153.8 667.5L1155.8 667.5L1157.8 667.4L1159.8 667.4L1161.8 667.4L1163.8 667.3L1165.8 667.3L1167.8 667.3L1169.8 667.2L1171.7 667.2L1173.7 667.2L1175.7 667.1L1177.7 667.1L1179.7 667.1L1181.7 667.1L1183.7 667.0L1185.7 667.0L1187.7 667.0L1189.7 667.0L1191.7 667.0L1193.7 666.9L1195.7 666.9L1197.7 666.9L1199.7 666.9L1201.7 666.9L1203.7 666.9L1205.7 666.8L1207.7 666.8L1209.7 666.8L1211.7 666.8L1213.7 666.8L1215.7 666.8L1217.7 666.8L1219.7 666.8L1221.7 666.8L1223.7 666.8L1225.7 666.8L1227.7 666.8L1229.7 666.8L1231.7 666.8L1233.7 666.8L1235.7 666.8L1237.7 666.8L1239.7 666.8L1241.7 666.8L1243.7 666.8L1245.7 666.8L1247.7 666.8L1249.7 666.8L1251.7 666.8L1253.7 666.8L1255.7 666.8L1257.7 666.9L1259.7 666.9L1261.7 666.9L1263.7 666.9L1265.7 666.9L1267.7 666.9L1269.6 666.9L1271.6 667.0L1273.6 667.0L1275.6 667.0L1277.6 667.0L1279.6 667.1L1281.6 667.1L1283.6 667.1L1285.6 667.1L1287.6 667.2L1289.6 667.2L1291.6 667.2L1293.6 667.2L1295.6 667.3L1297.6 667.3L1299.6 667.3L1301.6 667.4L1303.6 667.4L1305.6 667.4L1307.6 667.5L1309.6 667.5L1311.6 667.5L1313.6 667.6L1315.6 667.6L1317.6 667.7L1319.6 667.7L1321.6 667.7L1323.6 667.8L1325.6 667.8L1327.6 667.9L1329.6 667.9L1331.6 668.0L1333.6 668.0L1335.6 668.0L1337.6 668.1L1339.6 668.1L1341.6 668.2L1343.6 668.2L1345.6 668.3L1347.6 668.3L1349.6 668.4L1351.6 668.4L1353.6 668.5L1355.6 668.6L1357.6 668.6L1359.6 668.7L1361.6 668.7L1363.6 668.8L1365.6 668.8L1367.6 668.9L1369.6 669.0L1371.6 669.0L1373.6 669.1L1375.6 669.1L1377.6 669.2L1379.6 669.3L1381.6 669.3L1383.6 669.4L1385.6 669.5L1387.6 669.5L1389.6 669.6L1391.6 669.7L1393.6 669.7L1395.5 669.8L1397.5 669.9L1399.5 669.9L1401.5 670.0L1403.5 670.1L1405.5 670.2L1407.5 670.2L1409.5 670.3L1411.5 670.4L1413.5 670.4L1415.5 670.5L1417.5 670.6L1419.5 670.7L1421.5 670.8L1423.5 670.8L1425.5 670.9L1427.5 671.0L1429.5 671.1L1431.5 671.2L1433.5 671.2L1435.5 671.3L1437.5 671.4L1439.5 671.5L1441.5 671.6L1443.5 671.6L1445.5 671.7L1447.5 671.8L1449.5 671.9L1451.5 672.0L1453.5 672.1L1455.5 672.2L1457.5 672.2L1459.5 672.3L1461.5 672.4L1463.5 672.5L1465.5 672.6L1467.5 672.7L1469.5 672.8L1471.5 672.9L1473.5 673.0L1475.5 673.1L1477.5 673.2L1479.5 673.3L1481.5 673.3L1483.5 673.4L1485.5 673.5L1487.5 673.6L1489.5 673.7L1491.5 673.8L1493.5 673.9L1495.5 674.0L1497.4 674.1L1499.4 674.2L1501.4 674.3L1503.4 674.4L1505.4 674.5L1507.4 674.6L1509.4 674.7L1511.4 674.8L1513.4 674.9L1515.4 675.0L1517.4 675.1L1519.4 675.2L1521.4 675.3L1523.4 675.4L1525.4 675.5L1527.4 675.7L1529.4 675.8L1531.4 675.9L1533.4 676.0L1535.4 676.1L1537.4 676.2L1539.4 676.3L1541.4 676.4L1543.4 676.5L1545.4 676.6L1547.4 676.7L1549.4 676.8L1551.4 676.9L1553.4 677.1L1555.4 677.2L1557.4 677.3L1559.4 677.4L1561.4 677.5L1563.4 677.6L1565.4 677.7L1567.4 677.8L1569.3 677.9L1571.3 678.1L1573.3 678.2L1575.3 678.3L1577.3 678.4L1579.3 678.5L1581.3 678.6L1583.3 678.8L1585.3 678.9L1587.3 679.0L1589.3 679.1L1591.3 679.2L1593.3 679.3L1595.3 679.5L1597.3 679.6L1599.3 679.7L1601.3 679.8L1603.3 679.9L1605.3 680.0L1607.3 680.2L1609.3 680.3L1611.3 680.4L1613.3 680.5L1615.3 680.6L1617.3 680.8L1619.3 680.9L1621.2 681.0L1623.2 681.1L1625.2 681.2L1627.2 681.4L1629.2 681.5L1631.2 681.6L1633.2 681.7L1635.2 681.9L1637.2 682.0L1639.2 682.1L1641.2 682.2L1643.2 682.3L1645.2 682.5L1647.2 682.6L1649.2 682.7L1651.2 682.8L1653.2 683.0L1655.2 683.1L1657.2 683.2L1659.2 683.3L1661.2 683.5L1663.2 683.6L1665.1 683.7L1667.1 683.8L1669.1 684.0L1671.1 684.1L1673.1 684.2L1675.1 684.3L1677.1 684.5L1679.1 684.6L1681.1 684.7L1683.1 684.8L1685.1 685.0L1687.1 685.1L1689.1 685.2L1691.1 685.3L1693.1 685.5L1695.1 685.6L1697.1 685.7L1699.1 685.9L1701.0 686.0L1703.0 686.1L1705.0 686.2L1707.0 686.4L1709.0 686.5L1711.0 686.6L1713.0 686.7L1715.0 686.9L1717.0 687.0" stroke="#000000"/>
</g>
<line x1="1395" y1="53" x2="1395" y2="1205" stroke="#ff00ff" stroke-width="6" stroke-dasharray="21 18.43"/>
<text transform="translate(289.50,1275.70) scale(1.0,1.06)" font-family="'Liberation Serif', 'Times New Roman', serif" font-size="60" text-anchor="middle">0</text>
<text transform="translate(480.16,1275.70) scale(1.0,1.06)" font-family="'Liberation Serif', 'Times New Roman', serif" font-size="60" text-anchor="middle">20</text>
<text transform="translate(670.82,1275.70) scale(1.0,1.06)" font-family="'Liberation Serif', 'Times New Roman', serif" font-size="60" text-anchor="middle">40</text>
<text transform="translate(861.48,1275.70) scale(1.0,1.06)" font-family="'Liberation Serif', 'Times New Roman', serif" font-size="60" text-anchor="middle">60</text>
<text transform="translate(1052.14,1275.70) scale(1.0,1.06)" font-family="'Liberation Serif', 'Times New Roman', serif" font-size="60" text-anchor="middle">80</text>
<text transform="translate(1245.10,1275.70) scale(0.975,1.06)" font-family="'Liberation Serif', 'Times New Roman', serif" font-size="60" text-anchor="middle">100</text>
<text transform="translate(1435.76,1275.70) scale(0.975,1.06)" font-family="'Liberation Serif', 'Times New Roman', serif" font-size="60" text-anchor="middle">120</text>
<text transform="translate(1626.42,1275.70) scale(0.975,1.06)" font-family="'Liberation Serif', 'Times New Roman', serif" font-size="60" text-anchor="middle">140</text>
<text transform="translate(265.00,1223.19) scale(1.0,1.06)" font-family="'Liberation Serif', 'Times New Roman', serif" font-size="60" text-anchor="end">-0.06</text>
<text transform="translate(265.00,1046.11) scale(1.0,1.06)" font-family="'Liberation Serif', 'Times New Roman', serif" font-size="60" text-anchor="end">-0.04</text>
<text transform="translate(265.00,869.03) scale(1.0,1.06)" font-family="'Liberation Serif', 'Times New Roman', serif" font-size="60" text-anchor="end">-0.02</text>
<text transform="translate(265.00,691.95) scale(1.0,1.06)" font-family="'Liberation Serif', 'Times New Roman', serif" font-size="60" text-anchor="end">0.00</text>
<text transform="translate(265.00,514.87) scale(1.0,1.06)" font-family="'Liberation Serif', 'Times New Roman', serif" font-size="60" text-anchor="end">0.02</text>
<text transform="translate(265.00,337.79) scale(1.0,1.06)" font-family="'Liberation Serif', 'Times New Roman', serif" font-size="60" text-anchor="end">0.04</text>
<text transform="translate(265.00,160.71) scale(1.0,1.06)" font-family="'Liberation Serif', 'Times New Roman', serif" font-size="60" text-anchor="end">0.06</text>
<text transform="translate(885.80,1354.50) scale(0.988,1.038)" font-family="'Liberation Serif', 'Times New Roman', serif" font-size="72" text-anchor="start">Time/μs</text>
<text transform="translate(99,897.7) rotate(-90) scale(0.985,1.02)" font-family="'Liberation Serif', 'Times New Roman', serif" font-size="72">Bjerknes force <tspan font-style="italic">F</tspan><tspan font-size="48" dy="19.6">B</tspan><tspan dy="-19.6"> /N</tspan></text>
<rect x="633" y="129" width="328" height="496" fill="#d3d3d3"/>
<rect x="616" y="112" width="329" height="497" fill="#cdcdcd"/>
<rect x="619" y="114" width="324" height="492" fill="#fff"/>
<line x1="626.1" y1="158.5" x2="772.7" y2="158.5" stroke="#ff00ff" stroke-width="7" stroke-linecap="round"/>
<text transform="translate(788.60,181.20) scale(1,1)" font-family="'Liberation Serif', 'Times New Roman', serif" font-size="66" text-anchor="start">γ</text>
<text transform="translate(815.60,181.20) scale(1.126,1)" font-family="'Liberation Serif', 'Times New Roman', serif" font-size="66" text-anchor="start">=</text>
<text transform="translate(857.60,181.20) scale(0.903,1.03)" font-family="'Liberation Serif', 'Times New Roman', serif" font-size="66" text-anchor="start">1.3</text>
<line x1="626.1" y1="239.3" x2="772.7" y2="239.3" stroke="#00ffff" stroke-width="7" stroke-linecap="round"/>
<text transform="translate(788.60,262.00) scale(1,1)" font-family="'Liberation Serif', 'Times New Roman', serif" font-size="66" text-anchor="start">γ</text>
<text transform="translate(815.60,262.00) scale(1.126,1)" font-family="'Liberation Serif', 'Times New Roman', serif" font-size="66" text-anchor="start">=</text>
<text transform="translate(857.60,262.00) scale(0.903,1.03)" font-family="'Liberation Serif', 'Times New Roman', serif" font-size="66" text-anchor="start">1.5</text>
<line x1="626.1" y1="320.1" x2="772.7" y2="320.1" stroke="#0000ff" stroke-width="7" stroke-linecap="round"/>
<text transform="translate(788.60,342.80) scale(1,1)" font-family="'Liberation Serif', 'Times New Roman', serif" font-size="66" text-anchor="start">γ</text>
<text transform="translate(815.60,342.80) scale(1.126,1)" font-family="'Liberation Serif', 'Times New Roman', serif" font-size="66" text-anchor="start">=</text>
<text transform="translate(857.60,342.80) scale(0.903,1.03)" font-family="'Liberation Serif', 'Times New Roman', serif" font-size="66" text-anchor="start">1.8</text>
<line x1="626.1" y1="400.9" x2="772.7" y2="400.9" stroke="#00ff00" stroke-width="7" stroke-linecap="round"/>
<text transform="translate(788.60,423.60) scale(1,1)" font-family="'Liberation Serif', 'Times New Roman', serif" font-size="66" text-anchor="start">γ</text>
<text transform="translate(815.60,423.60) scale(1.126,1)" font-family="'Liberation Serif', 'Times New Roman', serif" font-size="66" text-anchor="start">=</text>
<text transform="translate(857.60,423.60) scale(0.903,1.03)" font-family="'Liberation Serif', 'Times New Roman', serif" font-size="66" text-anchor="start">2.5</text>
<line x1="626.1" y1="481.7" x2="772.7" y2="481.7" stroke="#ff0000" stroke-width="7" stroke-linecap="round"/>
<text transform="translate(788.60,504.40) scale(1,1)" font-family="'Liberation Serif', 'Times New Roman', serif" font-size="66" text-anchor="start">γ</text>
<text transform="translate(815.60,504.40) scale(1.126,1)" font-family="'Liberation Serif', 'Times New Roman', serif" font-size="66" text-anchor="start">=</text>
<text transform="translate(857.60,504.40) scale(0.903,1.03)" font-family="'Liberation Serif', 'Times New Roman', serif" font-size="66" text-anchor="start">3.0</text>
<line x1="626.1" y1="562.5" x2="772.7" y2="562.5" stroke="#000000" stroke-width="7" stroke-linecap="round"/>
<text transform="translate(788.60,585.20) scale(1,1)" font-family="'Liberation Serif', 'Times New Roman', serif" font-size="66" text-anchor="start">γ</text>
<text transform="translate(815.60,585.20) scale(1.126,1)" font-family="'Liberation Serif', 'Times New Roman', serif" font-size="66" text-anchor="start">=</text>
<text transform="translate(857.60,585.20) scale(0.903,1.03)" font-family="'Liberation Serif', 'Times New Roman', serif" font-size="66" text-anchor="start">5.0</text>
</svg>
</body></html>
